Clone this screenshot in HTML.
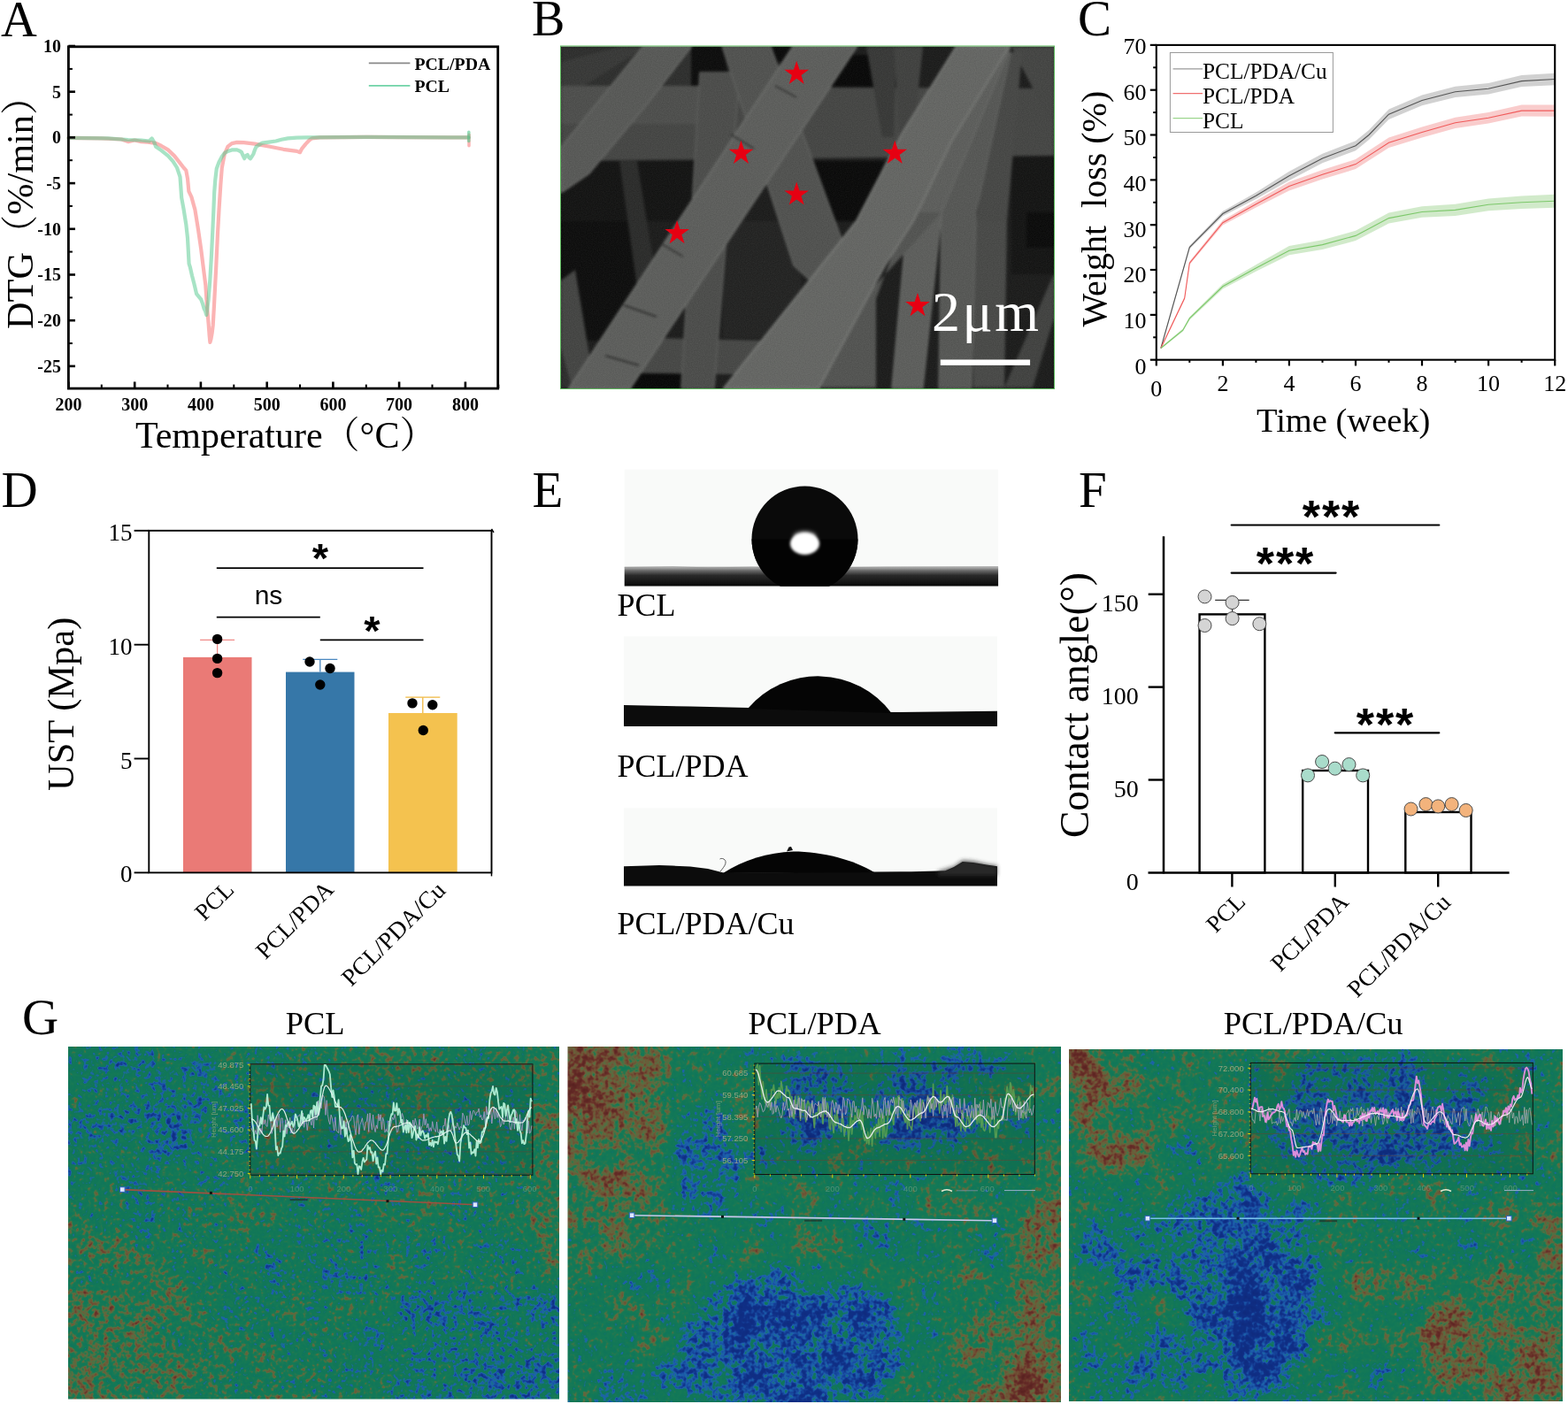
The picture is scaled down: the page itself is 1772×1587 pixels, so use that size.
<!DOCTYPE html>
<html><head><meta charset="utf-8"><title>Figure</title>
<style>html,body{margin:0;padding:0;background:#fff;} svg{display:block;}</style></head>
<body>
<svg width="1772" height="1587" viewBox="0 0 1772 1587">
<defs>
<linearGradient id="sub1" x1="0" y1="0" x2="0" y2="1"><stop offset="0" stop-color="#bdbdbd"/><stop offset="0.2" stop-color="#6a6a6a"/><stop offset="0.45" stop-color="#2a2a2a"/><stop offset="1" stop-color="#080808"/></linearGradient>
<filter id="blur15" x="-50%" y="-50%" width="200%" height="200%"><feGaussianBlur stdDeviation="1.5"/></filter>
<filter id="blur2" x="-50%" y="-50%" width="200%" height="200%"><feGaussianBlur stdDeviation="2"/></filter>
<filter id="semblur" x="0" y="0" width="100%" height="100%" color-interpolation-filters="sRGB"><feGaussianBlur in="SourceGraphic" stdDeviation="1.4" result="b"/><feTurbulence type="fractalNoise" baseFrequency="0.85" numOctaves="1" seed="4" result="n"/><feColorMatrix in="n" type="matrix" values="1 0 0 0 0 1 0 0 0 0 1 0 0 0 0 0 0 0 0 1" result="ng"/><feComposite in="b" in2="ng" operator="arithmetic" k1="0" k2="1" k3="0.1" k4="-0.05"/><feComponentTransfer><feFuncR type="linear" slope="0.83"/><feFuncG type="linear" slope="0.84"/><feFuncB type="linear" slope="0.82"/><feFuncA type="linear" slope="0" intercept="1"/></feComponentTransfer></filter>
<filter id="semnoise" x="0" y="0" width="100%" height="100%" color-interpolation-filters="sRGB"><feTurbulence type="fractalNoise" baseFrequency="0.9" numOctaves="1" seed="2"/><feColorMatrix type="matrix" values="1 0 0 0 0 1 0 0 0 0 1 0 0 0 0 0 0 0 0 1"/></filter>
<filter id="hm1" x="0" y="0" width="100%" height="100%" color-interpolation-filters="sRGB">
<feTurbulence type="fractalNoise" baseFrequency="0.028" numOctaves="3" seed="3" result="n1"/>
<feColorMatrix in="n1" type="matrix" values="1 0 0 0 0 1 0 0 0 0 1 0 0 0 0 0 0 0 0 1" result="g1"/>
<feTurbulence type="fractalNoise" baseFrequency="0.17" numOctaves="2" seed="53" result="n2"/>
<feColorMatrix in="n2" type="matrix" values="1 0 0 0 0 1 0 0 0 0 1 0 0 0 0 0 0 0 0 1" result="g2"/>
<feGaussianBlur in="SourceGraphic" stdDeviation="14" result="base"/>
<feComposite in="base" in2="g1" operator="arithmetic" k1="0" k2="1" k3="0.3" k4="-0.15" result="t"/>
<feComposite in="t" in2="g2" operator="arithmetic" k1="0" k2="1" k3="0.6" k4="-0.3" result="h"/>
<feComponentTransfer in="h">
<feFuncR type="table" tableValues="0.059 0.059 0.060 0.060 0.060 0.061 0.061 0.061 0.062 0.062 0.063 0.068 0.077 0.085 0.093 0.102 0.110 0.110 0.096 0.076 0.065 0.065 0.067 0.069 0.073 0.077 0.081 0.085 0.122 0.170 0.248 0.332 0.364 0.396 0.415 0.426 0.437 0.432 0.424 0.416 0.406 0.397 0.387 0.380 0.373 0.366 0.360 0.353"/>
<feFuncG type="table" tableValues="0.165 0.167 0.169 0.172 0.174 0.176 0.178 0.181 0.183 0.185 0.187 0.207 0.234 0.262 0.298 0.336 0.373 0.404 0.431 0.453 0.461 0.465 0.467 0.469 0.472 0.474 0.476 0.478 0.472 0.464 0.452 0.439 0.416 0.393 0.369 0.344 0.318 0.282 0.243 0.204 0.190 0.175 0.161 0.154 0.150 0.146 0.141 0.137"/>
<feFuncB type="table" tableValues="0.490 0.494 0.498 0.502 0.505 0.509 0.513 0.517 0.521 0.524 0.528 0.548 0.576 0.603 0.628 0.651 0.674 0.635 0.538 0.420 0.365 0.351 0.349 0.346 0.344 0.342 0.340 0.338 0.322 0.301 0.280 0.259 0.249 0.239 0.228 0.217 0.206 0.193 0.179 0.165 0.159 0.153 0.147 0.143 0.139 0.136 0.133 0.129"/>
<feFuncA type="linear" slope="0" intercept="1"/>
</feComponentTransfer>
</filter>
<filter id="hm2" x="0" y="0" width="100%" height="100%" color-interpolation-filters="sRGB">
<feTurbulence type="fractalNoise" baseFrequency="0.028" numOctaves="3" seed="11" result="n1"/>
<feColorMatrix in="n1" type="matrix" values="1 0 0 0 0 1 0 0 0 0 1 0 0 0 0 0 0 0 0 1" result="g1"/>
<feTurbulence type="fractalNoise" baseFrequency="0.17" numOctaves="2" seed="61" result="n2"/>
<feColorMatrix in="n2" type="matrix" values="1 0 0 0 0 1 0 0 0 0 1 0 0 0 0 0 0 0 0 1" result="g2"/>
<feGaussianBlur in="SourceGraphic" stdDeviation="14" result="base"/>
<feComposite in="base" in2="g1" operator="arithmetic" k1="0" k2="1" k3="0.4" k4="-0.2" result="t"/>
<feComposite in="t" in2="g2" operator="arithmetic" k1="0" k2="1" k3="0.5" k4="-0.25" result="h"/>
<feComponentTransfer in="h">
<feFuncR type="table" tableValues="0.059 0.059 0.060 0.060 0.060 0.061 0.061 0.061 0.062 0.062 0.063 0.068 0.077 0.085 0.093 0.102 0.110 0.110 0.096 0.076 0.065 0.065 0.067 0.069 0.073 0.077 0.081 0.085 0.122 0.170 0.248 0.332 0.364 0.396 0.415 0.426 0.437 0.432 0.424 0.416 0.406 0.397 0.387 0.380 0.373 0.366 0.360 0.353"/>
<feFuncG type="table" tableValues="0.165 0.167 0.169 0.172 0.174 0.176 0.178 0.181 0.183 0.185 0.187 0.207 0.234 0.262 0.298 0.336 0.373 0.404 0.431 0.453 0.461 0.465 0.467 0.469 0.472 0.474 0.476 0.478 0.472 0.464 0.452 0.439 0.416 0.393 0.369 0.344 0.318 0.282 0.243 0.204 0.190 0.175 0.161 0.154 0.150 0.146 0.141 0.137"/>
<feFuncB type="table" tableValues="0.490 0.494 0.498 0.502 0.505 0.509 0.513 0.517 0.521 0.524 0.528 0.548 0.576 0.603 0.628 0.651 0.674 0.635 0.538 0.420 0.365 0.351 0.349 0.346 0.344 0.342 0.340 0.338 0.322 0.301 0.280 0.259 0.249 0.239 0.228 0.217 0.206 0.193 0.179 0.165 0.159 0.153 0.147 0.143 0.139 0.136 0.133 0.129"/>
<feFuncA type="linear" slope="0" intercept="1"/>
</feComponentTransfer>
</filter>
<filter id="hm3" x="0" y="0" width="100%" height="100%" color-interpolation-filters="sRGB">
<feTurbulence type="fractalNoise" baseFrequency="0.028" numOctaves="3" seed="23" result="n1"/>
<feColorMatrix in="n1" type="matrix" values="1 0 0 0 0 1 0 0 0 0 1 0 0 0 0 0 0 0 0 1" result="g1"/>
<feTurbulence type="fractalNoise" baseFrequency="0.17" numOctaves="2" seed="73" result="n2"/>
<feColorMatrix in="n2" type="matrix" values="1 0 0 0 0 1 0 0 0 0 1 0 0 0 0 0 0 0 0 1" result="g2"/>
<feGaussianBlur in="SourceGraphic" stdDeviation="14" result="base"/>
<feComposite in="base" in2="g1" operator="arithmetic" k1="0" k2="1" k3="0.4" k4="-0.2" result="t"/>
<feComposite in="t" in2="g2" operator="arithmetic" k1="0" k2="1" k3="0.5" k4="-0.25" result="h"/>
<feComponentTransfer in="h">
<feFuncR type="table" tableValues="0.059 0.059 0.060 0.060 0.060 0.061 0.061 0.061 0.062 0.062 0.063 0.068 0.077 0.085 0.093 0.102 0.110 0.110 0.096 0.076 0.065 0.065 0.067 0.069 0.073 0.077 0.081 0.085 0.122 0.170 0.248 0.332 0.364 0.396 0.415 0.426 0.437 0.432 0.424 0.416 0.406 0.397 0.387 0.380 0.373 0.366 0.360 0.353"/>
<feFuncG type="table" tableValues="0.165 0.167 0.169 0.172 0.174 0.176 0.178 0.181 0.183 0.185 0.187 0.207 0.234 0.262 0.298 0.336 0.373 0.404 0.431 0.453 0.461 0.465 0.467 0.469 0.472 0.474 0.476 0.478 0.472 0.464 0.452 0.439 0.416 0.393 0.369 0.344 0.318 0.282 0.243 0.204 0.190 0.175 0.161 0.154 0.150 0.146 0.141 0.137"/>
<feFuncB type="table" tableValues="0.490 0.494 0.498 0.502 0.505 0.509 0.513 0.517 0.521 0.524 0.528 0.548 0.576 0.603 0.628 0.651 0.674 0.635 0.538 0.420 0.365 0.351 0.349 0.346 0.344 0.342 0.340 0.338 0.322 0.301 0.280 0.259 0.249 0.239 0.228 0.217 0.206 0.193 0.179 0.165 0.159 0.153 0.147 0.143 0.139 0.136 0.133 0.129"/>
<feFuncA type="linear" slope="0" intercept="1"/>
</feComponentTransfer>
</filter>
</defs>
<rect width="1772" height="1587" fill="#fff"/>
<text x="1" y="40.8" font-family="'Liberation Serif','Times New Roman',serif" font-size="56.5">A</text>
<path d="M77.4 155.9 L114.8 156.4 L137.2 157.5 L144.7 160.1 L152.2 158.5 L159.6 160.1 L167.1 160.6 L176.1 161.9 L182.1 164.7 L189.9 169.4 L197 176.1 L203.5 184.4 L207.5 189.5 L210.3 192.6 L212 201.9 L213.4 216.4 L216.4 222.6 L220.4 237.1 L223.9 258.8 L227.2 281.5 L229.9 303.3 L232.3 321.9 L234 346.7 L235.6 365.3 L236.6 378.7 L237.4 387 L238.5 382.9 L239.6 376.7 L240.7 367.4 L241.9 346.7 L244.1 304.3 L246 264 L247.5 237.1 L249.3 209.2 L250.8 189.5 L253.8 174 L257.5 165.7 L262 162.1 L267.8 160.9 L275.5 161.1 L288 162.6 L305 165.7 L320.3 168.8 L335.5 170.9 L339 172.2 L341.3 167.8 L345.6 162.6 L349.5 158.5 L352.5 156.4 L361.5 155.4 L413.8 154.9 L451.1 155.2 L529.6 155.4" fill="none" stroke="rgb(248,118,118)" stroke-opacity="0.55" stroke-width="4.2" stroke-linejoin="round" stroke-linecap="round"/>
<path d="M530 152.3 L530 164.7" stroke="rgb(248,118,118)" stroke-opacity="0.55" stroke-width="3.5" stroke-linecap="round"/>
<path d="M77.4 155.9 L122.2 156.4 L144.7 158 L159.6 158.5 L168.6 159.5 L171.6 156.4 L174.6 161.6 L176.1 165.7 L182.1 169.9 L189.9 176.1 L195.5 182.3 L200 189.5 L203.5 199.9 L205.2 223.6 L207.5 236.1 L210.3 253.6 L212 269.1 L213.6 298.1 L214.9 302.2 L217 311.5 L219.4 320.8 L222.1 332.2 L224.7 335.3 L227.2 338.4 L229.1 343.6 L230.6 348.8 L232.1 351.9 L233.3 356 L234.4 347.7 L235.6 338.4 L237.4 315.7 L239 287.8 L240.4 258.8 L241.4 237.1 L242.2 217.4 L243.3 203 L244.8 190.6 L247.5 183.3 L250.8 177.1 L253.8 173 L257.5 170.9 L262 169.4 L267.8 169.4 L270.3 170.4 L272.9 171.9 L274.7 176.1 L276.2 179.2 L277.7 176.1 L279.7 175 L281.5 178.1 L283 179.2 L284.5 177.1 L286.4 174 L288.2 168.8 L289.7 165.7 L292.7 163.7 L296.4 161.6 L303.9 160.6 L311.8 159.5 L318.1 157.7 L325.3 156.4 L335.3 155.6 L346.5 155.4 L413.8 154.9 L529.6 155.4" fill="none" stroke="rgb(80,200,140)" stroke-opacity="0.5" stroke-width="4.2" stroke-linejoin="round" stroke-linecap="round"/>
<path d="M529.8 149.2 L529.8 159.5" stroke="rgb(80,200,140)" stroke-opacity="0.6" stroke-width="3.5" stroke-linecap="round"/>
<rect x="77.4" y="52.8" width="485.3" height="386.3" fill="none" stroke="#000" stroke-width="2.8"/>
<line x1="77.4" y1="52" x2="85" y2="52" stroke="#000" stroke-width="2.6"/>
<text x="69" y="58.8" text-anchor="end" font-family="'Liberation Serif','Times New Roman',serif" font-weight="bold" font-size="20">10</text>
<line x1="77.4" y1="103.7" x2="85" y2="103.7" stroke="#000" stroke-width="2.6"/>
<text x="69" y="110.5" text-anchor="end" font-family="'Liberation Serif','Times New Roman',serif" font-weight="bold" font-size="20">5</text>
<line x1="77.4" y1="155.4" x2="85" y2="155.4" stroke="#000" stroke-width="2.6"/>
<text x="69" y="162.2" text-anchor="end" font-family="'Liberation Serif','Times New Roman',serif" font-weight="bold" font-size="20">0</text>
<line x1="77.4" y1="207.1" x2="85" y2="207.1" stroke="#000" stroke-width="2.6"/>
<text x="69" y="213.9" text-anchor="end" font-family="'Liberation Serif','Times New Roman',serif" font-weight="bold" font-size="20">-5</text>
<line x1="77.4" y1="258.8" x2="85" y2="258.8" stroke="#000" stroke-width="2.6"/>
<text x="69" y="265.6" text-anchor="end" font-family="'Liberation Serif','Times New Roman',serif" font-weight="bold" font-size="20">-10</text>
<line x1="77.4" y1="310.5" x2="85" y2="310.5" stroke="#000" stroke-width="2.6"/>
<text x="69" y="317.3" text-anchor="end" font-family="'Liberation Serif','Times New Roman',serif" font-weight="bold" font-size="20">-15</text>
<line x1="77.4" y1="362.2" x2="85" y2="362.2" stroke="#000" stroke-width="2.6"/>
<text x="69" y="369" text-anchor="end" font-family="'Liberation Serif','Times New Roman',serif" font-weight="bold" font-size="20">-20</text>
<line x1="77.4" y1="413.9" x2="85" y2="413.9" stroke="#000" stroke-width="2.6"/>
<text x="69" y="420.7" text-anchor="end" font-family="'Liberation Serif','Times New Roman',serif" font-weight="bold" font-size="20">-25</text>
<line x1="77.4" y1="77.9" x2="81.9" y2="77.9" stroke="#000" stroke-width="2"/>
<line x1="77.4" y1="129.6" x2="81.9" y2="129.6" stroke="#000" stroke-width="2"/>
<line x1="77.4" y1="181.2" x2="81.9" y2="181.2" stroke="#000" stroke-width="2"/>
<line x1="77.4" y1="232.9" x2="81.9" y2="232.9" stroke="#000" stroke-width="2"/>
<line x1="77.4" y1="284.6" x2="81.9" y2="284.6" stroke="#000" stroke-width="2"/>
<line x1="77.4" y1="336.4" x2="81.9" y2="336.4" stroke="#000" stroke-width="2"/>
<line x1="77.4" y1="388.1" x2="81.9" y2="388.1" stroke="#000" stroke-width="2"/>
<line x1="77.4" y1="439.1" x2="77.4" y2="431.5" stroke="#000" stroke-width="2.6"/>
<text x="77.4" y="464" text-anchor="middle" font-family="'Liberation Serif','Times New Roman',serif" font-weight="bold" font-size="20">200</text>
<line x1="152.2" y1="439.1" x2="152.2" y2="431.5" stroke="#000" stroke-width="2.6"/>
<text x="152.2" y="464" text-anchor="middle" font-family="'Liberation Serif','Times New Roman',serif" font-weight="bold" font-size="20">300</text>
<line x1="226.9" y1="439.1" x2="226.9" y2="431.5" stroke="#000" stroke-width="2.6"/>
<text x="226.9" y="464" text-anchor="middle" font-family="'Liberation Serif','Times New Roman',serif" font-weight="bold" font-size="20">400</text>
<line x1="301.7" y1="439.1" x2="301.7" y2="431.5" stroke="#000" stroke-width="2.6"/>
<text x="301.7" y="464" text-anchor="middle" font-family="'Liberation Serif','Times New Roman',serif" font-weight="bold" font-size="20">500</text>
<line x1="376.4" y1="439.1" x2="376.4" y2="431.5" stroke="#000" stroke-width="2.6"/>
<text x="376.4" y="464" text-anchor="middle" font-family="'Liberation Serif','Times New Roman',serif" font-weight="bold" font-size="20">600</text>
<line x1="451.1" y1="439.1" x2="451.1" y2="431.5" stroke="#000" stroke-width="2.6"/>
<text x="451.1" y="464" text-anchor="middle" font-family="'Liberation Serif','Times New Roman',serif" font-weight="bold" font-size="20">700</text>
<line x1="525.9" y1="439.1" x2="525.9" y2="431.5" stroke="#000" stroke-width="2.6"/>
<text x="525.9" y="464" text-anchor="middle" font-family="'Liberation Serif','Times New Roman',serif" font-weight="bold" font-size="20">800</text>
<line x1="114.8" y1="439.1" x2="114.8" y2="434.6" stroke="#000" stroke-width="2"/>
<line x1="189.5" y1="439.1" x2="189.5" y2="434.6" stroke="#000" stroke-width="2"/>
<line x1="264.3" y1="439.1" x2="264.3" y2="434.6" stroke="#000" stroke-width="2"/>
<line x1="339" y1="439.1" x2="339" y2="434.6" stroke="#000" stroke-width="2"/>
<line x1="413.8" y1="439.1" x2="413.8" y2="434.6" stroke="#000" stroke-width="2"/>
<line x1="488.5" y1="439.1" x2="488.5" y2="434.6" stroke="#000" stroke-width="2"/>
<line x1="563.3" y1="439.1" x2="563.3" y2="434.6" stroke="#000" stroke-width="2"/>
<line x1="416.8" y1="71.4" x2="463.4" y2="71.4" stroke="#8a8a8a" stroke-width="1.8"/>
<line x1="416.8" y1="96.8" x2="463.4" y2="96.8" stroke="#6fd3a6" stroke-width="1.8"/>
<text x="468.5" y="78.8" font-family="'Liberation Serif','Times New Roman',serif" font-weight="bold" font-size="19.8">PCL/PDA</text>
<text x="468.5" y="104.2" font-family="'Liberation Serif','Times New Roman',serif" font-weight="bold" font-size="19.8">PCL</text>
<text x="153" y="506" font-family="'Liberation Serif','Noto Serif CJK SC',serif" font-size="42">Temperature（°C）</text>
<text transform="translate(36.8,372) rotate(-90)" font-family="'Liberation Serif','Noto Serif CJK SC',serif" font-size="42.3">DTG（%/min）</text>
<text x="1218" y="40.3" font-family="'Liberation Serif','Times New Roman',serif" font-size="57">C</text>
<path d="M1311.9 392.6 L1344.3 277.8 L1381.9 238.7 L1419.4 217.4 L1456.9 193.7 L1494.5 173.7 L1532 159.3 L1547 147 L1569.5 123.5 L1607 107.5 L1644.6 97.7 L1682.1 93.9 L1719.6 85 L1757.2 82.8 L1757.2 96.2 L1719.6 98.1 L1682.1 106.5 L1644.6 109.9 L1607 119.3 L1569.5 134.9 L1547 158.1 L1532 170.2 L1494.5 184.3 L1456.9 203.9 L1419.4 225 L1381.9 244.3 L1344.3 281.4 L1311.9 394.4 Z" fill="#9a9a9a" fill-opacity="0.45"/>
<path d="M1311.9 392.6 L1338.7 335.4 L1344.3 295.6 L1381.9 248.9 L1419.4 227 L1456.9 205.4 L1494.5 192 L1532 180.1 L1569.5 155.5 L1607 143.6 L1644.6 132.7 L1682.1 126.9 L1719.6 118.6 L1757.2 118.4 L1757.2 131.8 L1719.6 131.6 L1682.1 139.5 L1644.6 144.9 L1607 155.4 L1569.5 166.9 L1532 191.1 L1494.5 202.6 L1456.9 215.6 L1419.4 234.6 L1381.9 254.5 L1344.3 299.2 L1338.7 338.7 L1311.9 394.4 Z" fill="#f08080" fill-opacity="0.4"/>
<path d="M1311.9 392.6 L1336.8 371.6 L1344.3 358.2 L1381.9 321.1 L1419.4 299.2 L1456.9 278.1 L1494.5 271.2 L1532 260.7 L1569.5 240.6 L1607 233.2 L1644.6 230.8 L1682.1 224.4 L1719.6 221.6 L1757.2 219.7 L1757.2 234.8 L1719.6 236 L1682.1 238.2 L1644.6 244 L1607 245.8 L1569.5 252.6 L1532 272.1 L1494.5 282 L1456.9 288.3 L1419.4 306.8 L1381.9 326.6 L1344.3 361.7 L1336.8 374.7 L1311.9 394.4 Z" fill="#98d08a" fill-opacity="0.45"/>
<path d="M1311.9 393.5 L1344.3 279.6 L1381.9 241.5 L1419.4 221.2 L1456.9 198.8 L1494.5 179 L1532 164.7 L1547 152.5 L1569.5 129.2 L1607 113.4 L1644.6 103.8 L1682.1 100.2 L1719.6 91.6 L1757.2 89.5" fill="none" stroke="#555" stroke-width="1.1"/>
<path d="M1311.9 393.5 L1338.7 337.1 L1344.3 297.4 L1381.9 251.7 L1419.4 230.8 L1456.9 210.5 L1494.5 197.3 L1532 185.6 L1569.5 161.2 L1607 149.5 L1644.6 138.8 L1682.1 133.2 L1719.6 125.1 L1757.2 125.1" fill="none" stroke="#f05a5a" stroke-width="1.1"/>
<path d="M1311.9 393.5 L1336.8 373.2 L1344.3 359.9 L1381.9 323.8 L1419.4 303 L1456.9 283.2 L1494.5 276.6 L1532 266.4 L1569.5 246.6 L1607 239.5 L1644.6 237.4 L1682.1 231.3 L1719.6 228.8 L1757.2 227.3" fill="none" stroke="#7cc86a" stroke-width="1.1"/>
<rect x="1306.8" y="50.9" width="450.4" height="355.8" fill="none" stroke="#000" stroke-width="2.1"/>
<line x1="1299.8" y1="406.7" x2="1306.8" y2="406.7" stroke="#000" stroke-width="2.2"/>
<text x="1295.5" y="422.5" text-anchor="end" font-family="'Liberation Serif','Times New Roman',serif" font-size="26">0</text>
<line x1="1299.8" y1="355.9" x2="1306.8" y2="355.9" stroke="#000" stroke-width="2.2"/>
<text x="1295.5" y="370.9" text-anchor="end" font-family="'Liberation Serif','Times New Roman',serif" font-size="26">10</text>
<line x1="1299.8" y1="305" x2="1306.8" y2="305" stroke="#000" stroke-width="2.2"/>
<text x="1295.5" y="319.2" text-anchor="end" font-family="'Liberation Serif','Times New Roman',serif" font-size="26">20</text>
<line x1="1299.8" y1="254.2" x2="1306.8" y2="254.2" stroke="#000" stroke-width="2.2"/>
<text x="1295.5" y="267.6" text-anchor="end" font-family="'Liberation Serif','Times New Roman',serif" font-size="26">30</text>
<line x1="1299.8" y1="203.4" x2="1306.8" y2="203.4" stroke="#000" stroke-width="2.2"/>
<text x="1295.5" y="216" text-anchor="end" font-family="'Liberation Serif','Times New Roman',serif" font-size="26">40</text>
<line x1="1299.8" y1="152.5" x2="1306.8" y2="152.5" stroke="#000" stroke-width="2.2"/>
<text x="1295.5" y="164.3" text-anchor="end" font-family="'Liberation Serif','Times New Roman',serif" font-size="26">50</text>
<line x1="1299.8" y1="101.7" x2="1306.8" y2="101.7" stroke="#000" stroke-width="2.2"/>
<text x="1295.5" y="112.7" text-anchor="end" font-family="'Liberation Serif','Times New Roman',serif" font-size="26">60</text>
<line x1="1299.8" y1="50.9" x2="1306.8" y2="50.9" stroke="#000" stroke-width="2.2"/>
<text x="1295.5" y="61.1" text-anchor="end" font-family="'Liberation Serif','Times New Roman',serif" font-size="26">70</text>
<line x1="1303.2" y1="381.3" x2="1306.8" y2="381.3" stroke="#000" stroke-width="2"/>
<line x1="1303.2" y1="330.5" x2="1306.8" y2="330.5" stroke="#000" stroke-width="2"/>
<line x1="1303.2" y1="279.6" x2="1306.8" y2="279.6" stroke="#000" stroke-width="2"/>
<line x1="1303.2" y1="228.8" x2="1306.8" y2="228.8" stroke="#000" stroke-width="2"/>
<line x1="1303.2" y1="178" x2="1306.8" y2="178" stroke="#000" stroke-width="2"/>
<line x1="1303.2" y1="127.1" x2="1306.8" y2="127.1" stroke="#000" stroke-width="2"/>
<line x1="1303.2" y1="76.3" x2="1306.8" y2="76.3" stroke="#000" stroke-width="2"/>
<line x1="1306.8" y1="406.7" x2="1306.8" y2="413.5" stroke="#000" stroke-width="2.2"/>
<text x="1306.8" y="448" text-anchor="middle" font-family="'Liberation Serif','Times New Roman',serif" font-size="26">0</text>
<line x1="1381.9" y1="406.7" x2="1381.9" y2="413.5" stroke="#000" stroke-width="2.2"/>
<text x="1381.9" y="441.5" text-anchor="middle" font-family="'Liberation Serif','Times New Roman',serif" font-size="26">2</text>
<line x1="1456.9" y1="406.7" x2="1456.9" y2="413.5" stroke="#000" stroke-width="2.2"/>
<text x="1456.9" y="441.5" text-anchor="middle" font-family="'Liberation Serif','Times New Roman',serif" font-size="26">4</text>
<line x1="1532" y1="406.7" x2="1532" y2="413.5" stroke="#000" stroke-width="2.2"/>
<text x="1532" y="441.5" text-anchor="middle" font-family="'Liberation Serif','Times New Roman',serif" font-size="26">6</text>
<line x1="1607" y1="406.7" x2="1607" y2="413.5" stroke="#000" stroke-width="2.2"/>
<text x="1607" y="441.5" text-anchor="middle" font-family="'Liberation Serif','Times New Roman',serif" font-size="26">8</text>
<line x1="1682.1" y1="406.7" x2="1682.1" y2="413.5" stroke="#000" stroke-width="2.2"/>
<text x="1682.1" y="441.5" text-anchor="middle" font-family="'Liberation Serif','Times New Roman',serif" font-size="26">10</text>
<line x1="1757.2" y1="406.7" x2="1757.2" y2="413.5" stroke="#000" stroke-width="2.2"/>
<text x="1757.2" y="441.5" text-anchor="middle" font-family="'Liberation Serif','Times New Roman',serif" font-size="26">12</text>
<line x1="1344.3" y1="406.7" x2="1344.3" y2="409.9" stroke="#000" stroke-width="2"/>
<line x1="1419.4" y1="406.7" x2="1419.4" y2="409.9" stroke="#000" stroke-width="2"/>
<line x1="1494.5" y1="406.7" x2="1494.5" y2="409.9" stroke="#000" stroke-width="2"/>
<line x1="1569.5" y1="406.7" x2="1569.5" y2="409.9" stroke="#000" stroke-width="2"/>
<line x1="1644.6" y1="406.7" x2="1644.6" y2="409.9" stroke="#000" stroke-width="2"/>
<line x1="1719.6" y1="406.7" x2="1719.6" y2="409.9" stroke="#000" stroke-width="2"/>
<rect x="1322.4" y="59.5" width="184" height="90" fill="#fff" fill-opacity="0" stroke="#9a9a9a" stroke-width="1"/>
<line x1="1325.6" y1="77.8" x2="1359" y2="77.8" stroke="#999" stroke-width="1.2"/>
<line x1="1325.6" y1="105.7" x2="1359" y2="105.7" stroke="#f07070" stroke-width="1.2"/>
<line x1="1325.6" y1="133.7" x2="1359" y2="133.7" stroke="#9bd58d" stroke-width="1.2"/>
<text x="1359" y="88.6" font-family="'Liberation Serif','Times New Roman',serif" font-size="25.3">PCL/PDA/Cu</text>
<text x="1359" y="116.5" font-family="'Liberation Serif','Times New Roman',serif" font-size="25.3">PCL/PDA</text>
<text x="1359" y="144.5" font-family="'Liberation Serif','Times New Roman',serif" font-size="25.3">PCL</text>
<text x="1420" y="487.7" font-family="'Liberation Serif','Times New Roman',serif" font-size="38.5">Time (week)</text>
<text transform="translate(1249.5,369.5) rotate(-90)" font-family="'Liberation Serif','Times New Roman',serif" font-size="40">Weight&#160;&#160;loss (%)</text>
<text x="1.5" y="573.4" font-family="'Liberation Serif','Times New Roman',serif" font-size="57">D</text>
<rect x="207" y="742.9" width="77.5" height="243.5" fill="#EA7A76"/>
<rect x="323" y="759.6" width="77.5" height="226.8" fill="#3677A8"/>
<rect x="439" y="806" width="77.7" height="180.4" fill="#F4C24F"/>
<line x1="245.6" y1="742.9" x2="245.6" y2="723.4" stroke="#f08a88" stroke-width="1.3"/>
<line x1="226.1" y1="723.4" x2="265.1" y2="723.4" stroke="#f08a88" stroke-width="1.3"/>
<line x1="361.8" y1="759.6" x2="361.8" y2="745.3" stroke="#4a88c0" stroke-width="1.3"/>
<line x1="342.3" y1="745.3" x2="381.3" y2="745.3" stroke="#4a88c0" stroke-width="1.3"/>
<line x1="477.8" y1="806" x2="477.8" y2="788.2" stroke="#f0b840" stroke-width="1.3"/>
<line x1="458.3" y1="788.2" x2="497.3" y2="788.2" stroke="#f0b840" stroke-width="1.3"/>
<circle cx="245.6" cy="722.4" r="5.7" fill="#000"/>
<circle cx="245.6" cy="744.4" r="5.7" fill="#000"/>
<circle cx="245.6" cy="760.6" r="5.7" fill="#000"/>
<circle cx="350" cy="748" r="5.7" fill="#000"/>
<circle cx="373" cy="755.5" r="5.7" fill="#000"/>
<circle cx="361.8" cy="774" r="5.7" fill="#000"/>
<circle cx="466" cy="794.9" r="5.7" fill="#000"/>
<circle cx="488.8" cy="796.7" r="5.7" fill="#000"/>
<circle cx="478.3" cy="825.5" r="5.7" fill="#000"/>
<rect x="168.3" y="599.8" width="387.2" height="386.6" fill="none" stroke="#000" stroke-width="1.9"/>
<line x1="151.6" y1="986.4" x2="168.3" y2="986.4" stroke="#000" stroke-width="1.9"/>
<text x="149.5" y="997.4" text-anchor="end" font-family="'Liberation Serif','Times New Roman',serif" font-size="27">0</text>
<line x1="151.6" y1="857.5" x2="168.3" y2="857.5" stroke="#000" stroke-width="1.9"/>
<text x="149.5" y="868.5" text-anchor="end" font-family="'Liberation Serif','Times New Roman',serif" font-size="27">5</text>
<line x1="151.6" y1="728.7" x2="168.3" y2="728.7" stroke="#000" stroke-width="1.9"/>
<text x="149.5" y="739.7" text-anchor="end" font-family="'Liberation Serif','Times New Roman',serif" font-size="27">10</text>
<line x1="151.6" y1="599.8" x2="168.3" y2="599.8" stroke="#000" stroke-width="1.9"/>
<text x="149.5" y="610.8" text-anchor="end" font-family="'Liberation Serif','Times New Roman',serif" font-size="27">15</text>
<line x1="555.5" y1="597.8" x2="558.0" y2="601.8" stroke="#000" stroke-width="1.5"/>
<line x1="555.5" y1="986.4" x2="555.5" y2="990.4" stroke="#000" stroke-width="1.5"/>
<line x1="244.8" y1="642.2" x2="478.5" y2="642.2" stroke="#000" stroke-width="1.8"/>
<line x1="244.8" y1="697.6" x2="361.8" y2="697.6" stroke="#000" stroke-width="1.8"/>
<line x1="361.8" y1="723.4" x2="478.5" y2="723.4" stroke="#000" stroke-width="1.8"/>
<text x="362" y="647" text-anchor="middle" font-family="'Liberation Sans',Arial,sans-serif" font-weight="bold" font-size="47">*</text>
<text x="420.5" y="729" text-anchor="middle" font-family="'Liberation Sans',Arial,sans-serif" font-weight="bold" font-size="47">*</text>
<text x="303.5" y="682.6" text-anchor="middle" font-family="'Liberation Sans',Arial,sans-serif" font-size="30">ns</text>
<text transform="translate(266,1007) rotate(-45)" text-anchor="end" font-family="'Liberation Serif','Times New Roman',serif" font-size="27">PCL</text>
<text transform="translate(378.5,1007) rotate(-45)" text-anchor="end" font-family="'Liberation Serif','Times New Roman',serif" font-size="27">PCL/PDA</text>
<text transform="translate(505,1008) rotate(-45)" text-anchor="end" font-family="'Liberation Serif','Times New Roman',serif" font-size="27.5">PCL/PDA/Cu</text>
<text transform="translate(83,894) rotate(-90)" font-family="'Liberation Serif','Times New Roman',serif" font-size="42.5">UST (Mpa)</text>
<text x="1219" y="573.4" font-family="'Liberation Serif','Times New Roman',serif" font-size="57">F</text>
<rect x="1355.6" y="694.4" width="73.8" height="292" fill="#fff" stroke="#000" stroke-width="2.4"/>
<rect x="1472.2" y="871" width="73.8" height="115.4" fill="#fff" stroke="#000" stroke-width="2.4"/>
<rect x="1588.3" y="918" width="74.2" height="68.4" fill="#fff" stroke="#000" stroke-width="2.4"/>
<line x1="1392.6" y1="678.4" x2="1392.6" y2="694.7" stroke="#333" stroke-width="1.3"/>
<line x1="1373.2" y1="678.4" x2="1411.7" y2="678.4" stroke="#333" stroke-width="1.3"/>
<line x1="1508.9" y1="864" x2="1508.9" y2="871" stroke="#333" stroke-width="1.3"/>
<line x1="1625.4" y1="913" x2="1625.4" y2="918" stroke="#333" stroke-width="1.3"/>
<circle cx="1361.5" cy="674.4" r="7.5" fill="#d4d4d4" stroke="#4a4a4a" stroke-width="1"/>
<circle cx="1392.6" cy="681" r="7.5" fill="#d4d4d4" stroke="#4a4a4a" stroke-width="1"/>
<circle cx="1392.6" cy="699.1" r="7.5" fill="#d4d4d4" stroke="#4a4a4a" stroke-width="1"/>
<circle cx="1361.5" cy="707" r="7.5" fill="#d4d4d4" stroke="#4a4a4a" stroke-width="1"/>
<circle cx="1423.4" cy="705.2" r="7.5" fill="#d4d4d4" stroke="#4a4a4a" stroke-width="1"/>
<circle cx="1494.1" cy="861" r="7.5" fill="#a9dccb" stroke="#4a4a4a" stroke-width="1"/>
<circle cx="1524.5" cy="864.1" r="7.5" fill="#a9dccb" stroke="#4a4a4a" stroke-width="1"/>
<circle cx="1508.7" cy="868.7" r="7.5" fill="#a9dccb" stroke="#4a4a4a" stroke-width="1"/>
<circle cx="1478" cy="876.4" r="7.5" fill="#a9dccb" stroke="#4a4a4a" stroke-width="1"/>
<circle cx="1540.2" cy="876.4" r="7.5" fill="#a9dccb" stroke="#4a4a4a" stroke-width="1"/>
<circle cx="1611.4" cy="909.1" r="7.5" fill="#F3B37C" stroke="#4a4a4a" stroke-width="1"/>
<circle cx="1640.6" cy="909.1" r="7.5" fill="#F3B37C" stroke="#4a4a4a" stroke-width="1"/>
<circle cx="1625.2" cy="911.4" r="7.5" fill="#F3B37C" stroke="#4a4a4a" stroke-width="1"/>
<circle cx="1594.5" cy="914.5" r="7.5" fill="#F3B37C" stroke="#4a4a4a" stroke-width="1"/>
<circle cx="1656.7" cy="916" r="7.5" fill="#F3B37C" stroke="#4a4a4a" stroke-width="1"/>
<line x1="1315" y1="606.2" x2="1315" y2="987.4" stroke="#000" stroke-width="2.5"/>
<line x1="1297.5" y1="986.4" x2="1705.6" y2="986.4" stroke="#000" stroke-width="2.5"/>
<line x1="1297.7" y1="881.5" x2="1315" y2="881.5" stroke="#000" stroke-width="2.4"/>
<line x1="1297.7" y1="776.6" x2="1315" y2="776.6" stroke="#000" stroke-width="2.4"/>
<line x1="1297.7" y1="671.7" x2="1315" y2="671.7" stroke="#000" stroke-width="2.4"/>
<text x="1286.8" y="1005.7" text-anchor="end" font-family="'Liberation Serif','Times New Roman',serif" font-size="28">0</text>
<text x="1286.8" y="900.8" text-anchor="end" font-family="'Liberation Serif','Times New Roman',serif" font-size="28">50</text>
<text x="1286.8" y="795.9" text-anchor="end" font-family="'Liberation Serif','Times New Roman',serif" font-size="28">100</text>
<text x="1286.8" y="691" text-anchor="end" font-family="'Liberation Serif','Times New Roman',serif" font-size="28">150</text>
<line x1="1392.4" y1="986.4" x2="1392.4" y2="1002.5" stroke="#000" stroke-width="2.4"/>
<line x1="1508.8" y1="986.4" x2="1508.8" y2="1002.5" stroke="#000" stroke-width="2.4"/>
<line x1="1625.2" y1="986.4" x2="1625.2" y2="1002.5" stroke="#000" stroke-width="2.4"/>
<line x1="1391.7" y1="593.5" x2="1626.3" y2="593.5" stroke="#000" stroke-width="2.2" stroke-linecap="round"/>
<line x1="1391.7" y1="647.6" x2="1509.6" y2="647.6" stroke="#000" stroke-width="2.2" stroke-linecap="round"/>
<line x1="1508.7" y1="828.3" x2="1626.3" y2="828.3" stroke="#000" stroke-width="2.2" stroke-linecap="round"/>
<text x="1505" y="601.5" text-anchor="middle" font-family="'Liberation Sans',Arial,sans-serif" font-weight="bold" font-size="52" letter-spacing="2">***</text>
<text x="1453" y="654.5" text-anchor="middle" font-family="'Liberation Sans',Arial,sans-serif" font-weight="bold" font-size="52" letter-spacing="2">***</text>
<text x="1566" y="837" text-anchor="middle" font-family="'Liberation Sans',Arial,sans-serif" font-weight="bold" font-size="52" letter-spacing="2">***</text>
<text transform="translate(1409,1020.5) rotate(-45)" text-anchor="end" font-family="'Liberation Serif','Times New Roman',serif" font-size="27">PCL</text>
<text transform="translate(1525.5,1021) rotate(-45)" text-anchor="end" font-family="'Liberation Serif','Times New Roman',serif" font-size="27">PCL/PDA</text>
<text transform="translate(1641,1021.5) rotate(-45)" text-anchor="end" font-family="'Liberation Serif','Times New Roman',serif" font-size="27.3">PCL/PDA/Cu</text>
<text transform="translate(1230,947) rotate(-90)" font-family="'Liberation Serif','Times New Roman',serif" font-size="45.5">Contact angle(°)</text>
<text x="601.5" y="573.4" font-family="'Liberation Serif','Times New Roman',serif" font-size="57">E</text>
<rect x="705.7" y="530.6" width="422.4" height="132" fill="#f9faf9"/>
<rect x="705.7" y="640.5" width="422.4" height="22" fill="url(#sub1)"/>
<path d="M705.7 641.5 L760 640.5 L800 642 L850 641 L900 642.5 L1000 641 L1128 640.5" fill="none" stroke="#888" stroke-width="1" stroke-opacity="0.5"/>
<clipPath id="clipE1"><rect x="705.7" y="530.6" width="422.4" height="131.8"/></clipPath>
<g clip-path="url(#clipE1)">
<circle cx="909.5" cy="609.5" r="60" fill="#0a0a0a"/>
<path d="M849.5 609.5 A60 60 0 0 0 969.5 609.5 Z" fill="#030303"/>
<ellipse cx="909.5" cy="614.5" rx="16.5" ry="12.5" fill="#fff" filter="url(#blur15)"/>
<ellipse cx="909.5" cy="606" rx="13" ry="6" fill="#fff" fill-opacity="0.5" filter="url(#blur2)"/>
</g>
<rect x="705" y="719.4" width="422" height="101.6" fill="#f9faf9"/>
<path d="M705 797 L780 798.5 L846 800 L1006.8 805 L1060 804.5 L1127 803.8 L1127 821 L705 821 Z" fill="#0c0c0c"/>
<path d="M845 801 A104 104 0 0 1 1007.5 806 Z" fill="#050505"/>
<rect x="705" y="913.4" width="422" height="88" fill="#f9faf9"/>
<path d="M705 979.3 L730 978.5 L745 978 L760 978.6 L780 979.5 L800 982 L817.8 986.6 L987.2 985.4 L1030 985.2 L1068.2 984.2 L1078 980 L1087.8 974 L1100 975 L1115 977.5 L1127 979.3 L1127 1001.4 L705 1001.4 Z" fill="#0c0c0c"/>
<path d="M1060 984.5 L1078 979 L1087.8 972 L1100 973 L1115 976.5 L1127 978.3 L1127 990 L1060 990 Z" fill="#333" fill-opacity="0.7" filter="url(#blur2)"/>
<path d="M817 987 C 840 972, 868 963.5, 896.4 962.5 C 930 962.5, 965 972, 988 986 Z" fill="#050505"/>
<path d="M889 962.5 L891.5 957.5 L894 957 L896 961 Z" fill="#111"/>
<path d="M814 985 C 820 978, 822 974, 818 971 C 816 970, 814 970.5, 813.5 971" fill="none" stroke="#333" stroke-width="0.8"/>
<text x="697.5" y="696.4" font-family="'Liberation Serif','Times New Roman',serif" font-size="36">PCL</text>
<text x="697.5" y="877.5" font-family="'Liberation Serif','Times New Roman',serif" font-size="36">PCL/PDA</text>
<text x="697.5" y="1056.4" font-family="'Liberation Serif','Times New Roman',serif" font-size="36">PCL/PDA/Cu</text>
<clipPath id="clipB"><rect x="634" y="52.5" width="557" height="386.5"/></clipPath>
<g clip-path="url(#clipB)">
<g filter="url(#semblur)">
<rect x="634" y="52.5" width="557" height="386.5" fill="#262626"/>
<path d="M634.0 53.0 L790.0 53.0 L790.0 97.0 L634.0 97.0 Z" fill="#3b3b3b"/>
<path d="M634.0 182.0 L800.0 182.0 L800.0 250.0 L634.0 250.0 Z" fill="#1c1c1c"/>
<path d="M634.0 250.0 L720.0 250.0 L720.0 385.0 L634.0 385.0 Z" fill="#151515"/>
<path d="M705.0 420.0 L775.0 420.0 L775.0 439.0 L705.0 439.0 Z" fill="#0e0e0e"/>
<path d="M781.0 53.0 L817.0 53.0 L825.0 97.0 L781.0 97.0 Z" fill="#141414"/>
<path d="M940.0 62.0 L995.0 62.0 L995.0 101.0 L940.0 101.0 Z" fill="#0f0f0f"/>
<path d="M920.0 182.0 L1000.0 182.0 L975.0 250.0 L925.0 250.0 Z" fill="#111111"/>
<path d="M871.0 53.0 L900.0 53.0 L900.0 70.0 L871.0 70.0 Z" fill="#111111"/>
<path d="M1143.0 150.0 L1191.0 150.0 L1191.0 310.0 L1143.0 310.0 Z" fill="#1d1d1d"/>
<path d="M1160.0 240.0 L1191.0 240.0 L1191.0 280.0 L1160.0 280.0 Z" fill="#121212"/>
<path d="M817.0 250.0 L905.0 250.0 L905.0 382.0 L817.0 382.0 Z" fill="#2e2e2e"/>
<path d="M634.0 70.0 L700.0 53.0 L730.0 53.0 L660.0 97.0 L634.0 97.0 Z" fill="#474747"/>
<path d="M634.0 97.0 L1191.0 100.0 L1191.0 176.0 L634.0 182.0 Z" fill="#565656"/>
<path d="M634.0 97.0 L800.0 97.0 L800.0 140.0 L634.0 140.0 Z" fill="#606060"/>
<path d="M979.0 53.0 L1013.0 53.0 L1010.0 155.0 L997.0 155.0 Z" fill="#474747"/>
<path d="M1010.0 53.0 L1043.0 53.0 L1030.0 175.0 L1018.0 175.0 Z" fill="#515151"/>
<path d="M1143.0 53.0 L1191.0 53.0 L1191.0 146.0 Z" fill="#555555"/>
<path d="M700.0 182.0 L720.0 182.0 L745.0 336.0 L722.0 340.0 Z" fill="#383838"/>
<path d="M634.0 317.0 L650.0 305.0 L672.0 438.0 L646.0 438.0 L634.0 395.0 Z" fill="#555555"/>
<path d="M634.0 395.0 L646.0 438.0 L634.0 438.0 Z" fill="#3a3a3a"/>
<path d="M713.6 381.5 L915.0 386.0 L915.0 424.0 L713.6 421.7 Z" fill="#585858"/>
<path d="M1135.0 438.0 L1167.0 438.0 L1191.0 360.0 L1191.0 309.0 Z" fill="#525252"/>
<path d="M1100.0 250.0 L1138.0 250.0 L1135.0 438.0 L1100.0 438.0 Z" fill="#5a5a5a"/>
<path d="M1132.0 59.0 L1155.0 59.0 L1138.0 250.0 L1103.0 250.0 Z" fill="#585858"/>
<path d="M791.0 82.0 L836.0 82.0 L807.0 438.0 L770.0 438.0 Z" fill="#5e5e5e" stroke="#6e6e6e" stroke-width="1.6" stroke-linejoin="round"/>
<path d="M1119.0 60.0 L1142.0 60.0 L1103.0 240.0 L1098.0 438.0 L1061.0 438.0 L1064.0 240.0 Z" fill="#6a6a6a" stroke="#767676" stroke-width="1.4" stroke-linejoin="round"/>
<path d="M1111.0 53.0 L1142.0 53.0 L1064.0 240.0 L1043.0 438.0 L1008.0 438.0 L1026.0 240.0 Z" fill="#727272" stroke="#7e7e7e" stroke-width="1.4" stroke-linejoin="round"/>
<path d="M1064.0 240.0 L1026.0 240.0 L990.0 338.0 L990.0 438.0 L926.0 438.0 L942.0 401.0 L977.0 336.0 Z" fill="#666666"/>
<path d="M816.5 53.0 L871.0 53.0 L962.0 300.0 L935.0 335.0 L897.0 300.0 Z" fill="#646464" stroke="#747474" stroke-width="1.6" stroke-linejoin="round"/>
<path d="M634.8 165.8 L726.5 53.0 L781.2 53.0 L729.7 119.2 L691.1 165.8 L665.4 196.3 L634.8 217.3 Z" fill="#6c6c6c" stroke="#7c7c7c" stroke-width="1.8" stroke-linejoin="round"/>
<path d="M643.0 439.0 L896.0 53.0 L968.0 53.0 L712.0 439.0 Z" fill="#727272" stroke="#828282" stroke-width="2.0" stroke-linejoin="round"/>
<path d="M818.0 439.0 L915.0 317.0 L967.9 250.0 L1020.0 150.0 L1080.5 53.0 L1140.0 53.0 L1075.0 160.0 L1032.0 250.0 L1000.0 300.0 L925.0 439.0 Z" fill="#7b7b7b" stroke="#8e8e8e" stroke-width="2.2" stroke-linejoin="round"/>
<line x1="705" y1="345" x2="742" y2="358" stroke="#2a2a2a" stroke-width="1.4"/>
<line x1="748" y1="276" x2="772" y2="290" stroke="#2a2a2a" stroke-width="1.4"/>
<line x1="826" y1="152" x2="852" y2="168" stroke="#2a2a2a" stroke-width="1.4"/>
<line x1="876" y1="97" x2="900" y2="110" stroke="#2a2a2a" stroke-width="1.4"/>
<line x1="684" y1="402" x2="722" y2="413" stroke="#2a2a2a" stroke-width="1.4"/>
</g>
</g>
<rect x="633.5" y="52.0" width="558" height="387.5" fill="none" stroke="#5cb85c" stroke-width="1"/>
<path d="M900.2 68.7 L903.5 78.7 L914.0 78.7 L905.5 84.9 L908.7 94.9 L900.2 88.8 L891.7 94.9 L894.9 84.9 L886.4 78.7 L896.9 78.7 Z" fill="#E60012"/>
<path d="M837.5 158.7 L840.8 168.7 L851.3 168.7 L842.8 174.9 L846.0 184.9 L837.5 178.8 L829.0 184.9 L832.2 174.9 L823.7 168.7 L834.2 168.7 Z" fill="#E60012"/>
<path d="M900.2 205.4 L903.5 215.4 L914.0 215.4 L905.5 221.6 L908.7 231.6 L900.2 225.5 L891.7 231.6 L894.9 221.6 L886.4 215.4 L896.9 215.4 Z" fill="#E60012"/>
<path d="M1011.3 158.7 L1014.6 168.7 L1025.1 168.7 L1016.6 174.9 L1019.8 184.9 L1011.3 178.8 L1002.8 184.9 L1006.0 174.9 L997.5 168.7 L1008.0 168.7 Z" fill="#E60012"/>
<path d="M765.1 249.0 L768.4 259.0 L778.9 259.0 L770.4 265.2 L773.6 275.2 L765.1 269.1 L756.6 275.2 L759.8 265.2 L751.3 259.0 L761.8 259.0 Z" fill="#E60012"/>
<path d="M1037.0 331.0 L1040.3 341.0 L1050.8 341.0 L1042.3 347.2 L1045.5 357.2 L1037.0 351.1 L1028.5 357.2 L1031.7 347.2 L1023.2 341.0 L1033.7 341.0 Z" fill="#E60012"/>
<text x="1053" y="373.5" font-family="'Liberation Serif','Times New Roman',serif" font-size="64" letter-spacing="2.5" fill="#fff">2μm</text>
<rect x="1062.8" y="406.5" width="101.3" height="6.4" fill="#fff"/>
<text x="601" y="40.3" font-family="'Liberation Serif','Times New Roman',serif" font-size="56">B</text>
<text x="25" y="1168.5" font-family="'Liberation Serif','Times New Roman',serif" font-size="57">G</text>
<text x="356.2" y="1168.8" text-anchor="middle" font-family="'Liberation Serif','Times New Roman',serif" font-size="36.5">PCL</text>
<text x="920.5" y="1169" text-anchor="middle" font-family="'Liberation Serif','Times New Roman',serif" font-size="36.5">PCL/PDA</text>
<text x="1484.2" y="1168.8" text-anchor="middle" font-family="'Liberation Serif','Times New Roman',serif" font-size="36.5">PCL/PDA/Cu</text>
<clipPath id="chm1"><rect x="77" y="1183" width="555" height="398.5"/></clipPath>
<g clip-path="url(#chm1)"><g filter="url(#hm1)">
<rect x="47" y="1153" width="615" height="458.5" fill="#838383"/>
<ellipse cx="160" cy="1260" rx="95" ry="80" fill="#737373"/>
<ellipse cx="195" cy="1250" rx="40" ry="60" fill="#666666"/>
<ellipse cx="130" cy="1200" rx="70" ry="25" fill="#707070"/>
<ellipse cx="540" cy="1520" rx="120" ry="80" fill="#6e6e6e"/>
<ellipse cx="600" cy="1560" rx="60" ry="40" fill="#666666"/>
<ellipse cx="360" cy="1420" rx="60" ry="50" fill="#7a7a7a"/>
<ellipse cx="130" cy="1500" rx="90" ry="100" fill="#999999"/>
<ellipse cx="90" cy="1550" rx="40" ry="40" fill="#adadad"/>
<ellipse cx="85" cy="1420" rx="30" ry="60" fill="#949494"/>
<ellipse cx="618" cy="1300" rx="30" ry="140" fill="#999999"/>
<ellipse cx="250" cy="1540" rx="70" ry="40" fill="#919191"/>
<ellipse cx="480" cy="1215" rx="110" ry="25" fill="#8f8f8f"/>
<ellipse cx="330" cy="1320" rx="40" ry="40" fill="#8a8a8a"/>
</g></g>
<clipPath id="chm2"><rect x="641.5" y="1183" width="557.5" height="402"/></clipPath>
<g clip-path="url(#chm2)"><g filter="url(#hm2)">
<rect x="611.5" y="1153" width="617.5" height="462" fill="#878787"/>
<ellipse cx="680" cy="1280" rx="80" ry="130" fill="#a7a7a7"/>
<ellipse cx="658" cy="1225" rx="35" ry="65" fill="#d1d1d1"/>
<ellipse cx="720" cy="1195" rx="60" ry="25" fill="#b2b2b2"/>
<ellipse cx="650" cy="1400" rx="20" ry="60" fill="#949494"/>
<ellipse cx="895" cy="1520" rx="130" ry="75" fill="#4c4c4c"/>
<ellipse cx="800" cy="1545" rx="50" ry="45" fill="#575757"/>
<ellipse cx="940" cy="1470" rx="60" ry="35" fill="#525252"/>
<ellipse cx="870" cy="1500" rx="50" ry="30" fill="#424242"/>
<ellipse cx="805" cy="1320" rx="45" ry="60" fill="#616161"/>
<ellipse cx="920" cy="1250" rx="45" ry="55" fill="#525252"/>
<ellipse cx="1045" cy="1260" rx="55" ry="55" fill="#4f4f4f"/>
<ellipse cx="1100" cy="1200" rx="45" ry="20" fill="#5c5c5c"/>
<ellipse cx="1000" cy="1390" rx="45" ry="22" fill="#666666"/>
<ellipse cx="1185" cy="1420" rx="30" ry="110" fill="#a8a8a8"/>
<ellipse cx="1165" cy="1565" rx="65" ry="35" fill="#cccccc"/>
<ellipse cx="1120" cy="1520" rx="40" ry="40" fill="#a8a8a8"/>
<ellipse cx="700" cy="1570" rx="45" ry="25" fill="#6b6b6b"/>
<ellipse cx="1070" cy="1330" rx="40" ry="30" fill="#999999"/>
<ellipse cx="930" cy="1405" rx="30" ry="20" fill="#9e9e9e"/>
</g></g>
<clipPath id="chm3"><rect x="1208" y="1186" width="558" height="398"/></clipPath>
<g clip-path="url(#chm3)"><g filter="url(#hm3)">
<rect x="1178" y="1156" width="618" height="458" fill="#878787"/>
<ellipse cx="1245" cy="1230" rx="45" ry="45" fill="#a3a3a3"/>
<ellipse cx="1216" cy="1196" rx="22" ry="16" fill="#e6e6e6"/>
<ellipse cx="1230" cy="1228" rx="18" ry="28" fill="#bdbdbd"/>
<ellipse cx="1272" cy="1288" rx="50" ry="14" fill="#adadad"/>
<ellipse cx="1282" cy="1292" rx="14" ry="7" fill="#d6d6d6"/>
<ellipse cx="1263" cy="1318" rx="15" ry="19" fill="#d6d6d6"/>
<ellipse cx="1290" cy="1200" rx="30" ry="14" fill="#9e9e9e"/>
<ellipse cx="1228" cy="1440" rx="25" ry="60" fill="#949494"/>
<ellipse cx="1415" cy="1470" rx="75" ry="115" fill="#4c4c4c"/>
<ellipse cx="1410" cy="1480" rx="40" ry="60" fill="#404040"/>
<ellipse cx="1400" cy="1370" rx="75" ry="30" fill="#545454"/>
<ellipse cx="1280" cy="1420" rx="60" ry="50" fill="#616161"/>
<ellipse cx="1290" cy="1540" rx="60" ry="40" fill="#666666"/>
<ellipse cx="1560" cy="1265" rx="120" ry="65" fill="#575757"/>
<ellipse cx="1690" cy="1520" rx="90" ry="70" fill="#a3a3a3"/>
<ellipse cx="1632" cy="1507" rx="20" ry="24" fill="#dbdbdb"/>
<ellipse cx="1735" cy="1565" rx="35" ry="20" fill="#d6d6d6"/>
<ellipse cx="1755" cy="1420" rx="18" ry="50" fill="#bdbdbd"/>
<ellipse cx="1540" cy="1465" rx="18" ry="28" fill="#b2b2b2"/>
<ellipse cx="1640" cy="1380" rx="70" ry="40" fill="#878787"/>
</g></g>
<rect x="282.8" y="1202.8" width="319.09999999999997" height="125.40000000000009" fill="#000" fill-opacity="0.06" stroke="#111" stroke-width="1"/>
<line x1="282.8" y1="1203.2" x2="601.9" y2="1203.2" stroke="#6a4030" stroke-opacity="0.6" stroke-width="0.8"/>
<text x="275.3" y="1206.5" text-anchor="end" font-family="'Liberation Sans',Arial,sans-serif" font-size="9.5" fill="#c8b890" fill-opacity="0.7">49.875</text>
<line x1="279.8" y1="1203.2" x2="282.8" y2="1203.2" stroke="#e8d000" stroke-width="1"/>
<line x1="282.8" y1="1227.8" x2="601.9" y2="1227.8" stroke="#6a4030" stroke-opacity="0.6" stroke-width="0.8"/>
<text x="275.3" y="1231.1" text-anchor="end" font-family="'Liberation Sans',Arial,sans-serif" font-size="9.5" fill="#c8b890" fill-opacity="0.7">48.450</text>
<line x1="279.8" y1="1227.8" x2="282.8" y2="1227.8" stroke="#e8d000" stroke-width="1"/>
<line x1="282.8" y1="1252.5" x2="601.9" y2="1252.5" stroke="#6a4030" stroke-opacity="0.6" stroke-width="0.8"/>
<text x="275.3" y="1255.8" text-anchor="end" font-family="'Liberation Sans',Arial,sans-serif" font-size="9.5" fill="#c8b890" fill-opacity="0.7">47.025</text>
<line x1="279.8" y1="1252.5" x2="282.8" y2="1252.5" stroke="#e8d000" stroke-width="1"/>
<line x1="282.8" y1="1277.1" x2="601.9" y2="1277.1" stroke="#6a4030" stroke-opacity="0.6" stroke-width="0.8"/>
<text x="275.3" y="1280.3999999999999" text-anchor="end" font-family="'Liberation Sans',Arial,sans-serif" font-size="9.5" fill="#c8b890" fill-opacity="0.7">45.600</text>
<line x1="279.8" y1="1277.1" x2="282.8" y2="1277.1" stroke="#e8d000" stroke-width="1"/>
<line x1="282.8" y1="1301.8" x2="601.9" y2="1301.8" stroke="#6a4030" stroke-opacity="0.6" stroke-width="0.8"/>
<text x="275.3" y="1305.1" text-anchor="end" font-family="'Liberation Sans',Arial,sans-serif" font-size="9.5" fill="#c8b890" fill-opacity="0.7">44.175</text>
<line x1="279.8" y1="1301.8" x2="282.8" y2="1301.8" stroke="#e8d000" stroke-width="1"/>
<line x1="282.8" y1="1326.4" x2="601.9" y2="1326.4" stroke="#6a4030" stroke-opacity="0.6" stroke-width="0.8"/>
<text x="275.3" y="1329.7" text-anchor="end" font-family="'Liberation Sans',Arial,sans-serif" font-size="9.5" fill="#c8b890" fill-opacity="0.7">42.750</text>
<line x1="279.8" y1="1326.4" x2="282.8" y2="1326.4" stroke="#e8d000" stroke-width="1"/>
<line x1="281.3" y1="1204.8" x2="282.8" y2="1204.8" stroke="#e8d000" stroke-width="0.8"/>
<line x1="281.3" y1="1209.7" x2="282.8" y2="1209.7" stroke="#e8d000" stroke-width="0.8"/>
<line x1="281.3" y1="1214.6" x2="282.8" y2="1214.6" stroke="#e8d000" stroke-width="0.8"/>
<line x1="281.3" y1="1219.5" x2="282.8" y2="1219.5" stroke="#e8d000" stroke-width="0.8"/>
<line x1="281.3" y1="1224.4" x2="282.8" y2="1224.4" stroke="#e8d000" stroke-width="0.8"/>
<line x1="281.3" y1="1229.3" x2="282.8" y2="1229.3" stroke="#e8d000" stroke-width="0.8"/>
<line x1="281.3" y1="1234.2" x2="282.8" y2="1234.2" stroke="#e8d000" stroke-width="0.8"/>
<line x1="281.3" y1="1239.1" x2="282.8" y2="1239.1" stroke="#e8d000" stroke-width="0.8"/>
<line x1="281.3" y1="1244.0" x2="282.8" y2="1244.0" stroke="#e8d000" stroke-width="0.8"/>
<line x1="281.3" y1="1248.9" x2="282.8" y2="1248.9" stroke="#e8d000" stroke-width="0.8"/>
<line x1="281.3" y1="1253.8" x2="282.8" y2="1253.8" stroke="#e8d000" stroke-width="0.8"/>
<line x1="281.3" y1="1258.7" x2="282.8" y2="1258.7" stroke="#e8d000" stroke-width="0.8"/>
<line x1="281.3" y1="1263.6" x2="282.8" y2="1263.6" stroke="#e8d000" stroke-width="0.8"/>
<line x1="281.3" y1="1268.5" x2="282.8" y2="1268.5" stroke="#e8d000" stroke-width="0.8"/>
<line x1="281.3" y1="1273.4" x2="282.8" y2="1273.4" stroke="#e8d000" stroke-width="0.8"/>
<line x1="281.3" y1="1278.3" x2="282.8" y2="1278.3" stroke="#e8d000" stroke-width="0.8"/>
<line x1="281.3" y1="1283.2" x2="282.8" y2="1283.2" stroke="#e8d000" stroke-width="0.8"/>
<line x1="281.3" y1="1288.1" x2="282.8" y2="1288.1" stroke="#e8d000" stroke-width="0.8"/>
<line x1="281.3" y1="1293.0" x2="282.8" y2="1293.0" stroke="#e8d000" stroke-width="0.8"/>
<line x1="281.3" y1="1297.9" x2="282.8" y2="1297.9" stroke="#e8d000" stroke-width="0.8"/>
<line x1="281.3" y1="1302.8" x2="282.8" y2="1302.8" stroke="#e8d000" stroke-width="0.8"/>
<line x1="281.3" y1="1307.7" x2="282.8" y2="1307.7" stroke="#e8d000" stroke-width="0.8"/>
<line x1="281.3" y1="1312.6" x2="282.8" y2="1312.6" stroke="#e8d000" stroke-width="0.8"/>
<line x1="281.3" y1="1317.5" x2="282.8" y2="1317.5" stroke="#e8d000" stroke-width="0.8"/>
<line x1="281.3" y1="1322.4" x2="282.8" y2="1322.4" stroke="#e8d000" stroke-width="0.8"/>
<line x1="281.3" y1="1327.3" x2="282.8" y2="1327.3" stroke="#e8d000" stroke-width="0.8"/>
<line x1="282.8" y1="1328.2" x2="282.8" y2="1332.2" stroke="#e8d000" stroke-width="1"/>
<line x1="293.4" y1="1328.2" x2="293.4" y2="1330.2" stroke="#e8d000" stroke-width="1"/>
<line x1="303.9" y1="1328.2" x2="303.9" y2="1330.2" stroke="#e8d000" stroke-width="1"/>
<line x1="314.4" y1="1328.2" x2="314.4" y2="1330.2" stroke="#e8d000" stroke-width="1"/>
<line x1="325.0" y1="1328.2" x2="325.0" y2="1330.2" stroke="#e8d000" stroke-width="1"/>
<line x1="335.6" y1="1328.2" x2="335.6" y2="1332.2" stroke="#e8d000" stroke-width="1"/>
<line x1="346.1" y1="1328.2" x2="346.1" y2="1330.2" stroke="#e8d000" stroke-width="1"/>
<line x1="356.7" y1="1328.2" x2="356.7" y2="1330.2" stroke="#e8d000" stroke-width="1"/>
<line x1="367.2" y1="1328.2" x2="367.2" y2="1330.2" stroke="#e8d000" stroke-width="1"/>
<line x1="377.8" y1="1328.2" x2="377.8" y2="1330.2" stroke="#e8d000" stroke-width="1"/>
<line x1="388.3" y1="1328.2" x2="388.3" y2="1332.2" stroke="#e8d000" stroke-width="1"/>
<line x1="398.9" y1="1328.2" x2="398.9" y2="1330.2" stroke="#e8d000" stroke-width="1"/>
<line x1="409.4" y1="1328.2" x2="409.4" y2="1330.2" stroke="#e8d000" stroke-width="1"/>
<line x1="420.0" y1="1328.2" x2="420.0" y2="1330.2" stroke="#e8d000" stroke-width="1"/>
<line x1="430.5" y1="1328.2" x2="430.5" y2="1330.2" stroke="#e8d000" stroke-width="1"/>
<line x1="441.1" y1="1328.2" x2="441.1" y2="1332.2" stroke="#e8d000" stroke-width="1"/>
<line x1="451.6" y1="1328.2" x2="451.6" y2="1330.2" stroke="#e8d000" stroke-width="1"/>
<line x1="462.2" y1="1328.2" x2="462.2" y2="1330.2" stroke="#e8d000" stroke-width="1"/>
<line x1="472.7" y1="1328.2" x2="472.7" y2="1330.2" stroke="#e8d000" stroke-width="1"/>
<line x1="483.2" y1="1328.2" x2="483.2" y2="1330.2" stroke="#e8d000" stroke-width="1"/>
<line x1="493.8" y1="1328.2" x2="493.8" y2="1332.2" stroke="#e8d000" stroke-width="1"/>
<line x1="504.4" y1="1328.2" x2="504.4" y2="1330.2" stroke="#e8d000" stroke-width="1"/>
<line x1="514.9" y1="1328.2" x2="514.9" y2="1330.2" stroke="#e8d000" stroke-width="1"/>
<line x1="525.5" y1="1328.2" x2="525.5" y2="1330.2" stroke="#e8d000" stroke-width="1"/>
<line x1="536.0" y1="1328.2" x2="536.0" y2="1330.2" stroke="#e8d000" stroke-width="1"/>
<line x1="546.5" y1="1328.2" x2="546.5" y2="1332.2" stroke="#e8d000" stroke-width="1"/>
<line x1="557.1" y1="1328.2" x2="557.1" y2="1330.2" stroke="#e8d000" stroke-width="1"/>
<line x1="567.7" y1="1328.2" x2="567.7" y2="1330.2" stroke="#e8d000" stroke-width="1"/>
<line x1="578.2" y1="1328.2" x2="578.2" y2="1330.2" stroke="#e8d000" stroke-width="1"/>
<line x1="588.8" y1="1328.2" x2="588.8" y2="1330.2" stroke="#e8d000" stroke-width="1"/>
<line x1="599.3" y1="1328.2" x2="599.3" y2="1332.2" stroke="#e8d000" stroke-width="1"/>
<text x="282.8" y="1347.2" text-anchor="middle" font-family="'Liberation Sans',Arial,sans-serif" font-size="9.5" fill="#c0c0b0" fill-opacity="0.35">0</text>
<text x="335.6" y="1347.2" text-anchor="middle" font-family="'Liberation Sans',Arial,sans-serif" font-size="9.5" fill="#c0c0b0" fill-opacity="0.35">100</text>
<text x="388.4" y="1347.2" text-anchor="middle" font-family="'Liberation Sans',Arial,sans-serif" font-size="9.5" fill="#c0c0b0" fill-opacity="0.35">200</text>
<text x="441.3" y="1347.2" text-anchor="middle" font-family="'Liberation Sans',Arial,sans-serif" font-size="9.5" fill="#c0c0b0" fill-opacity="0.35">300</text>
<text x="494" y="1347.2" text-anchor="middle" font-family="'Liberation Sans',Arial,sans-serif" font-size="9.5" fill="#c0c0b0" fill-opacity="0.35">400</text>
<text x="546.2" y="1347.2" text-anchor="middle" font-family="'Liberation Sans',Arial,sans-serif" font-size="9.5" fill="#c0c0b0" fill-opacity="0.35">500</text>
<text x="598.6" y="1347.2" text-anchor="middle" font-family="'Liberation Sans',Arial,sans-serif" font-size="9.5" fill="#c0c0b0" fill-opacity="0.35">600</text>
<text transform="translate(244.3,1265.5) rotate(-90)" text-anchor="middle" font-family="'Liberation Sans',Arial,sans-serif" font-size="8" fill="#c8b890" fill-opacity="0.55">Height [um]</text>
<path d="M283.8 1274.9 L285.0 1277.8 L286.2 1279.1 L287.5 1282.6 L288.7 1277.7 L289.9 1282.1 L291.1 1260.6 L292.3 1271.1 L293.6 1282.5 L294.8 1275.4 L296.0 1281.4 L297.2 1262.5 L298.4 1271.0 L299.7 1265.6 L300.9 1272.7 L302.1 1273.4 L303.3 1259.9 L304.5 1264.7 L305.8 1266.2 L307.0 1281.4 L308.2 1277.7 L309.4 1263.1 L310.6 1278.4 L311.9 1262.5 L313.1 1273.9 L314.3 1262.1 L315.5 1259.0 L316.7 1279.9 L317.9 1263.9 L319.2 1264.0 L320.4 1282.3 L321.6 1279.6 L322.8 1265.6 L324.0 1281.7 L325.3 1271.5 L326.5 1274.8 L327.7 1263.3 L328.9 1281.0 L330.1 1274.9 L331.4 1281.5 L332.6 1279.7 L333.8 1265.4 L335.0 1266.8 L336.2 1262.1 L337.5 1261.6 L338.7 1259.7 L339.9 1265.3 L341.1 1272.5 L342.3 1258.1 L343.6 1274.3 L344.8 1266.1 L346.0 1265.4 L347.2 1277.6 L348.4 1269.3 L349.7 1264.8 L350.9 1267.8 L352.1 1271.9 L353.3 1254.8 L354.5 1275.0 L355.8 1250.2 L357.0 1265.6 L358.2 1265.9 L359.4 1244.1 L360.6 1260.7 L361.9 1249.0 L363.1 1252.8 L364.3 1238.1 L365.5 1238.4 L366.7 1241.3 L368.0 1260.4 L369.2 1243.7 L370.4 1259.6 L371.6 1267.0 L372.8 1270.9 L374.1 1260.2 L375.3 1263.7 L376.5 1270.3 L377.7 1278.0 L378.9 1262.6 L380.1 1278.0 L381.4 1279.1 L382.6 1280.6 L383.8 1260.8 L385.0 1282.6 L386.2 1262.1 L387.5 1268.0 L388.7 1274.4 L389.9 1281.7 L391.1 1267.8 L392.3 1281.8 L393.6 1272.6 L394.8 1266.9 L396.0 1266.9 L397.2 1263.5 L398.4 1261.0 L399.7 1262.6 L400.9 1275.5 L402.1 1282.7 L403.3 1262.6 L404.5 1259.8 L405.8 1282.2 L407.0 1271.2 L408.2 1268.0 L409.4 1263.8 L410.6 1272.3 L411.9 1277.7 L413.1 1268.7 L414.3 1267.8 L415.5 1258.9 L416.7 1279.4 L418.0 1258.1 L419.2 1269.0 L420.4 1277.2 L421.6 1260.1 L422.8 1274.4 L424.1 1279.6 L425.3 1271.8 L426.5 1275.5 L427.7 1259.1 L428.9 1266.9 L430.2 1259.9 L431.4 1276.6 L432.6 1263.3 L433.8 1267.1 L435.0 1280.1 L436.3 1276.5 L437.5 1279.5 L438.7 1266.9 L439.9 1267.7 L441.1 1273.5 L442.4 1267.5 L443.6 1263.0 L444.8 1265.7 L446.0 1259.5 L447.2 1265.1 L448.4 1279.8 L449.7 1279.2 L450.9 1271.2 L452.1 1268.2 L453.3 1264.4 L454.5 1258.5 L455.8 1263.0 L457.0 1275.3 L458.2 1277.4 L459.4 1265.3 L460.6 1275.6 L461.9 1275.5 L463.1 1273.6 L464.3 1273.0 L465.5 1275.4 L466.7 1266.0 L468.0 1274.3 L469.2 1264.3 L470.4 1269.3 L471.6 1276.2 L472.8 1274.5 L474.1 1265.1 L475.3 1280.8 L476.5 1273.8 L477.7 1272.3 L478.9 1258.8 L480.2 1271.7 L481.4 1264.7 L482.6 1274.9 L483.8 1270.0 L485.0 1278.6 L486.3 1274.7 L487.5 1278.4 L488.7 1267.7 L489.9 1274.9 L491.1 1277.2 L492.4 1279.5 L493.6 1268.0 L494.8 1279.9 L496.0 1280.6 L497.2 1276.3 L498.5 1283.3 L499.7 1282.9 L500.9 1272.4 L502.1 1272.7 L503.3 1264.0 L504.6 1280.1 L505.8 1282.5 L507.0 1271.4 L508.2 1276.5 L509.4 1277.1 L510.6 1277.3 L511.9 1263.8 L513.1 1278.2 L514.3 1273.3 L515.5 1275.1 L516.7 1269.0 L518.0 1273.6 L519.2 1277.0 L520.4 1273.4 L521.6 1275.1 L522.8 1258.1 L524.1 1261.0 L525.3 1267.4 L526.5 1272.0 L527.7 1261.3 L528.9 1272.1 L530.2 1270.4 L531.4 1255.9 L532.6 1265.9 L533.8 1259.6 L535.0 1255.1 L536.3 1256.6 L537.5 1260.7 L538.7 1257.1 L539.9 1257.1 L541.1 1253.0 L542.4 1263.0 L543.6 1260.6 L544.8 1265.9 L546.0 1265.2 L547.2 1256.5 L548.5 1272.3 L549.7 1250.5 L550.9 1260.0 L552.1 1256.9 L553.3 1259.9 L554.6 1252.8 L555.8 1270.0 L557.0 1259.0 L558.2 1250.9 L559.4 1264.8 L560.7 1252.4 L561.9 1263.4 L563.1 1258.6 L564.3 1264.5 L565.5 1273.8 L566.8 1270.7 L568.0 1261.3 L569.2 1271.0 L570.4 1267.2 L571.6 1260.9 L572.8 1255.8 L574.1 1267.0 L575.3 1266.6 L576.5 1276.4 L577.7 1277.0 L578.9 1268.7 L580.2 1262.8 L581.4 1276.2 L582.6 1255.1 L583.8 1258.0 L585.0 1269.3 L586.3 1270.8 L587.5 1259.7 L588.7 1271.7 L589.9 1278.2 L591.1 1266.1 L592.4 1267.7 L593.6 1262.9 L594.8 1264.6 L596.0 1281.1 L597.2 1267.0 L598.5 1281.0 L599.7 1279.9 L600.9 1272.3" fill="none" stroke="#a898c8" stroke-width="1.0" stroke-opacity="0.85" stroke-linejoin="round"/>
<path d="M283.8 1247.3 L285.0 1267.6 L286.2 1275.7 L287.5 1288.8 L288.7 1289.9 L289.9 1298.7 L291.1 1284.0 L292.3 1273.7 L293.6 1271.9 L294.8 1263.2 L296.0 1270.4 L297.2 1261.6 L298.4 1251.5 L299.7 1253.7 L300.9 1251.1 L302.1 1237.0 L303.3 1249.7 L304.5 1249.9 L305.8 1266.6 L307.0 1266.7 L308.2 1258.2 L309.4 1264.6 L310.6 1272.8 L311.9 1299.3 L313.1 1296.1 L314.3 1306.2 L315.5 1303.3 L316.7 1303.7 L317.9 1298.6 L319.2 1295.6 L320.4 1278.4 L321.6 1284.5 L322.8 1271.8 L324.0 1273.3 L325.3 1269.0 L326.5 1268.2 L327.7 1272.0 L328.9 1270.3 L330.1 1267.7 L331.4 1273.8 L332.6 1270.2 L333.8 1259.3 L335.0 1262.4 L336.2 1265.3 L337.5 1273.0 L338.7 1272.0 L339.9 1265.7 L341.1 1256.0 L342.3 1269.5 L343.6 1262.8 L344.8 1264.7 L346.0 1266.3 L347.2 1263.9 L348.4 1260.1 L349.7 1266.7 L350.9 1256.0 L352.1 1255.0 L353.3 1262.3 L354.5 1249.7 L355.8 1250.8 L357.0 1260.0 L358.2 1246.0 L359.4 1259.0 L360.6 1252.1 L361.9 1239.9 L363.1 1227.8 L364.3 1226.8 L365.5 1220.5 L366.7 1203.8 L368.0 1204.0 L369.2 1206.1 L370.4 1208.5 L371.6 1210.8 L372.8 1214.2 L374.1 1229.2 L375.3 1240.1 L376.5 1232.3 L377.7 1238.9 L378.9 1250.8 L380.1 1251.0 L381.4 1251.0 L382.6 1243.2 L383.8 1260.3 L385.0 1270.1 L386.2 1275.7 L387.5 1275.2 L388.7 1267.5 L389.9 1284.6 L391.1 1274.8 L392.3 1282.9 L393.6 1290.2 L394.8 1289.0 L396.0 1283.0 L397.2 1291.2 L398.4 1308.4 L399.7 1300.7 L400.9 1314.8 L402.1 1316.4 L403.3 1316.0 L404.5 1327.1 L405.8 1318.1 L407.0 1319.0 L408.2 1322.0 L409.4 1313.3 L410.6 1308.8 L411.9 1313.5 L413.1 1312.0 L414.3 1310.6 L415.5 1294.6 L416.7 1298.8 L418.0 1296.9 L419.2 1302.9 L420.4 1302.3 L421.6 1312.4 L422.8 1304.6 L424.1 1301.5 L425.3 1315.7 L426.5 1308.5 L427.7 1319.6 L428.9 1319.3 L430.2 1327.2 L431.4 1322.7 L432.6 1324.2 L433.8 1316.0 L435.0 1316.6 L436.3 1304.2 L437.5 1304.2 L438.7 1289.9 L439.9 1272.7 L441.1 1264.8 L442.4 1259.1 L443.6 1259.7 L444.8 1246.4 L446.0 1255.5 L447.2 1255.4 L448.4 1247.1 L449.7 1260.3 L450.9 1253.1 L452.1 1257.3 L453.3 1269.1 L454.5 1265.8 L455.8 1279.7 L457.0 1274.1 L458.2 1271.8 L459.4 1280.4 L460.6 1267.0 L461.9 1280.0 L463.1 1268.6 L464.3 1271.1 L465.5 1286.2 L466.7 1282.1 L468.0 1274.4 L469.2 1272.9 L470.4 1288.5 L471.6 1283.0 L472.8 1286.0 L474.1 1274.2 L475.3 1283.5 L476.5 1279.4 L477.7 1278.1 L478.9 1280.8 L480.2 1286.8 L481.4 1283.1 L482.6 1284.7 L483.8 1281.1 L485.0 1294.4 L486.3 1291.8 L487.5 1295.1 L488.7 1288.7 L489.9 1296.3 L491.1 1290.2 L492.4 1291.4 L493.6 1290.7 L494.8 1293.2 L496.0 1286.5 L497.2 1280.5 L498.5 1278.8 L499.7 1281.3 L500.9 1277.8 L502.1 1292.6 L503.3 1284.9 L504.6 1289.8 L505.8 1276.0 L507.0 1265.2 L508.2 1258.7 L509.4 1256.7 L510.6 1260.0 L511.9 1270.3 L513.1 1274.7 L514.3 1286.4 L515.5 1295.3 L516.7 1304.9 L518.0 1306.7 L519.2 1312.6 L520.4 1292.4 L521.6 1285.5 L522.8 1278.3 L524.1 1272.2 L525.3 1274.5 L526.5 1275.1 L527.7 1282.2 L528.9 1277.6 L530.2 1297.6 L531.4 1291.3 L532.6 1304.7 L533.8 1302.4 L535.0 1303.1 L536.3 1299.2 L537.5 1306.5 L538.7 1289.8 L539.9 1297.3 L541.1 1287.8 L542.4 1292.2 L543.6 1291.0 L544.8 1279.3 L546.0 1279.3 L547.2 1275.2 L548.5 1275.0 L549.7 1265.6 L550.9 1262.9 L552.1 1263.9 L553.3 1244.0 L554.6 1235.6 L555.8 1233.3 L557.0 1227.9 L558.2 1236.4 L559.4 1237.5 L560.7 1229.8 L561.9 1234.2 L563.1 1245.4 L564.3 1253.8 L565.5 1251.9 L566.8 1250.9 L568.0 1262.9 L569.2 1246.8 L570.4 1248.1 L571.6 1261.3 L572.8 1255.1 L574.1 1249.3 L575.3 1259.3 L576.5 1268.2 L577.7 1260.7 L578.9 1258.4 L580.2 1254.4 L581.4 1254.3 L582.6 1269.6 L583.8 1265.0 L585.0 1277.8 L586.3 1268.1 L587.5 1278.2 L588.7 1281.1 L589.9 1292.3 L591.1 1289.2 L592.4 1293.2 L593.6 1292.2 L594.8 1282.5 L596.0 1267.4 L597.2 1255.9 L598.5 1262.7 L599.7 1241.6 L600.9 1245.2" fill="none" stroke="#b4f0d8" stroke-width="1.8" stroke-opacity="0.95" stroke-linejoin="round"/>
<path d="M283.8 1264.7 L285.0 1265.1 L286.2 1265.5 L287.5 1266.8 L288.7 1268.1 L289.9 1270.2 L291.1 1272.5 L292.3 1274.4 L293.6 1276.8 L294.8 1278.4 L296.0 1280.2 L297.2 1282.1 L298.4 1283.4 L299.7 1284.2 L300.9 1284.5 L302.1 1284.5 L303.3 1283.7 L304.5 1282.2 L305.8 1279.7 L307.0 1277.1 L308.2 1274.2 L309.4 1270.6 L310.6 1267.1 L311.9 1263.9 L313.1 1260.8 L314.3 1258.5 L315.5 1256.4 L316.7 1254.6 L317.9 1253.7 L319.2 1253.6 L320.4 1254.7 L321.6 1256.7 L322.8 1259.8 L324.0 1263.5 L325.3 1267.2 L326.5 1271.0 L327.7 1275.0 L328.9 1277.6 L330.1 1279.8 L331.4 1281.0 L332.6 1281.2 L333.8 1280.4 L335.0 1279.4 L336.2 1277.7 L337.5 1276.1 L338.7 1273.9 L339.9 1272.0 L341.1 1270.0 L342.3 1268.6 L343.6 1267.5 L344.8 1267.0 L346.0 1267.1 L347.2 1266.8 L348.4 1266.6 L349.7 1265.9 L350.9 1265.3 L352.1 1264.3 L353.3 1264.1 L354.5 1263.3 L355.8 1262.7 L357.0 1262.4 L358.2 1262.4 L359.4 1260.8 L360.6 1257.2 L361.9 1251.4 L363.1 1244.7 L364.3 1238.7 L365.5 1233.0 L366.7 1228.8 L368.0 1227.2 L369.2 1227.4 L370.4 1228.4 L371.6 1230.3 L372.8 1232.3 L374.1 1234.6 L375.3 1237.1 L376.5 1240.1 L377.7 1242.8 L378.9 1245.4 L380.1 1247.5 L381.4 1249.7 L382.6 1251.1 L383.8 1251.7 L385.0 1251.5 L386.2 1252.6 L387.5 1253.9 L388.7 1256.5 L389.9 1259.3 L391.1 1263.0 L392.3 1266.8 L393.6 1270.6 L394.8 1275.1 L396.0 1279.8 L397.2 1283.9 L398.4 1288.0 L399.7 1291.8 L400.9 1295.3 L402.1 1298.2 L403.3 1300.1 L404.5 1301.8 L405.8 1302.2 L407.0 1301.9 L408.2 1301.7 L409.4 1300.3 L410.6 1298.6 L411.9 1297.4 L413.1 1295.0 L414.3 1293.4 L415.5 1291.7 L416.7 1290.6 L418.0 1289.4 L419.2 1288.9 L420.4 1289.0 L421.6 1289.5 L422.8 1290.7 L424.1 1291.9 L425.3 1293.7 L426.5 1295.0 L427.7 1296.6 L428.9 1297.9 L430.2 1299.4 L431.4 1300.0 L432.6 1300.2 L433.8 1299.4 L435.0 1297.6 L436.3 1294.8 L437.5 1291.8 L438.7 1287.8 L439.9 1283.7 L441.1 1280.2 L442.4 1277.0 L443.6 1275.2 L444.8 1274.0 L446.0 1273.4 L447.2 1273.6 L448.4 1273.1 L449.7 1273.0 L450.9 1272.6 L452.1 1272.0 L453.3 1271.6 L454.5 1270.8 L455.8 1270.1 L457.0 1269.9 L458.2 1269.6 L459.4 1269.1 L460.6 1269.1 L461.9 1269.2 L463.1 1269.6 L464.3 1270.7 L465.5 1272.2 L466.7 1273.9 L468.0 1276.0 L469.2 1278.0 L470.4 1280.5 L471.6 1282.5 L472.8 1284.5 L474.1 1286.1 L475.3 1287.5 L476.5 1288.4 L477.7 1289.1 L478.9 1288.9 L480.2 1288.9 L481.4 1288.7 L482.6 1288.3 L483.8 1287.7 L485.0 1287.0 L486.3 1286.5 L487.5 1286.1 L488.7 1285.7 L489.9 1285.4 L491.1 1285.0 L492.4 1284.6 L493.6 1284.9 L494.8 1284.4 L496.0 1284.4 L497.2 1283.5 L498.5 1283.3 L499.7 1282.5 L500.9 1281.9 L502.1 1281.0 L503.3 1280.1 L504.6 1279.5 L505.8 1278.8 L507.0 1278.3 L508.2 1277.9 L509.4 1278.2 L510.6 1280.4 L511.9 1283.6 L513.1 1288.1 L514.3 1291.0 L515.5 1292.2 L516.7 1291.7 L518.0 1290.9 L519.2 1289.2 L520.4 1287.6 L521.6 1285.7 L522.8 1283.7 L524.1 1281.9 L525.3 1280.6 L526.5 1280.0 L527.7 1280.4 L528.9 1280.8 L530.2 1281.5 L531.4 1282.3 L532.6 1283.7 L533.8 1284.5 L535.0 1285.8 L536.3 1287.0 L537.5 1288.2 L538.7 1289.3 L539.9 1289.5 L541.1 1290.1 L542.4 1290.2 L543.6 1288.8 L544.8 1286.5 L546.0 1283.7 L547.2 1279.8 L548.5 1275.3 L549.7 1270.4 L550.9 1265.4 L552.1 1261.0 L553.3 1257.3 L554.6 1254.5 L555.8 1252.2 L557.0 1251.5 L558.2 1251.9 L559.4 1253.0 L560.7 1254.0 L561.9 1255.8 L563.1 1258.1 L564.3 1260.6 L565.5 1262.8 L566.8 1264.4 L568.0 1265.8 L569.2 1266.9 L570.4 1267.1 L571.6 1267.1 L572.8 1267.2 L574.1 1266.9 L575.3 1267.3 L576.5 1267.7 L577.7 1268.0 L578.9 1267.8 L580.2 1268.3 L581.4 1268.4 L582.6 1268.8 L583.8 1268.5 L585.0 1269.0 L586.3 1269.2 L587.5 1269.1 L588.7 1268.9 L589.9 1269.0 L591.1 1268.6 L592.4 1267.1 L593.6 1264.9 L594.8 1262.3 L596.0 1258.9 L597.2 1256.3 L598.5 1253.9 L599.7 1252.3 L600.9 1251.8" fill="none" stroke="#e6f6ee" stroke-width="1.2" stroke-opacity="0.95" stroke-linejoin="round"/>
<line x1="138.3" y1="1344.6" x2="537" y2="1361.7" stroke="#a05040" stroke-width="1.6"/>
<rect x="236.9" y="1346.9" width="3" height="3" fill="#111"/>
<rect x="436.5" y="1356.2" width="3" height="3" fill="#111"/>
<rect x="135.5" y="1341.8" width="5.6" height="5.6" fill="#dde8ff" stroke="#3060c0" stroke-width="1"/>
<rect x="534.2" y="1358.9" width="5.6" height="5.6" fill="#dde8ff" stroke="#3060c0" stroke-width="1"/>
<rect x="327.65" y="1355.15" width="20" height="2" fill="#222" fill-opacity="0.6"/>
<rect x="852.8" y="1202.1" width="316.5" height="125.40000000000009" fill="#000" fill-opacity="0.06" stroke="#111" stroke-width="1"/>
<line x1="852.8" y1="1213.1" x2="1169.3" y2="1213.1" stroke="#6a4030" stroke-opacity="0.6" stroke-width="0.8"/>
<text x="845.3" y="1216.3999999999999" text-anchor="end" font-family="'Liberation Sans',Arial,sans-serif" font-size="9.5" fill="#c8b890" fill-opacity="0.7">60.685</text>
<line x1="849.8" y1="1213.1" x2="852.8" y2="1213.1" stroke="#e8d000" stroke-width="1"/>
<line x1="852.8" y1="1237.7" x2="1169.3" y2="1237.7" stroke="#6a4030" stroke-opacity="0.6" stroke-width="0.8"/>
<text x="845.3" y="1241.0" text-anchor="end" font-family="'Liberation Sans',Arial,sans-serif" font-size="9.5" fill="#c8b890" fill-opacity="0.7">59.540</text>
<line x1="849.8" y1="1237.7" x2="852.8" y2="1237.7" stroke="#e8d000" stroke-width="1"/>
<line x1="852.8" y1="1262.3" x2="1169.3" y2="1262.3" stroke="#6a4030" stroke-opacity="0.6" stroke-width="0.8"/>
<text x="845.3" y="1265.6" text-anchor="end" font-family="'Liberation Sans',Arial,sans-serif" font-size="9.5" fill="#c8b890" fill-opacity="0.7">58.395</text>
<line x1="849.8" y1="1262.3" x2="852.8" y2="1262.3" stroke="#e8d000" stroke-width="1"/>
<line x1="852.8" y1="1286.9" x2="1169.3" y2="1286.9" stroke="#6a4030" stroke-opacity="0.6" stroke-width="0.8"/>
<text x="845.3" y="1290.2" text-anchor="end" font-family="'Liberation Sans',Arial,sans-serif" font-size="9.5" fill="#c8b890" fill-opacity="0.7">57.250</text>
<line x1="849.8" y1="1286.9" x2="852.8" y2="1286.9" stroke="#e8d000" stroke-width="1"/>
<line x1="852.8" y1="1311.5" x2="1169.3" y2="1311.5" stroke="#6a4030" stroke-opacity="0.6" stroke-width="0.8"/>
<text x="845.3" y="1314.8" text-anchor="end" font-family="'Liberation Sans',Arial,sans-serif" font-size="9.5" fill="#c8b890" fill-opacity="0.7">56.105</text>
<line x1="849.8" y1="1311.5" x2="852.8" y2="1311.5" stroke="#e8d000" stroke-width="1"/>
<line x1="851.3" y1="1204.1" x2="852.8" y2="1204.1" stroke="#e8d000" stroke-width="0.8"/>
<line x1="851.3" y1="1209.0" x2="852.8" y2="1209.0" stroke="#e8d000" stroke-width="0.8"/>
<line x1="851.3" y1="1213.9" x2="852.8" y2="1213.9" stroke="#e8d000" stroke-width="0.8"/>
<line x1="851.3" y1="1218.8" x2="852.8" y2="1218.8" stroke="#e8d000" stroke-width="0.8"/>
<line x1="851.3" y1="1223.7" x2="852.8" y2="1223.7" stroke="#e8d000" stroke-width="0.8"/>
<line x1="851.3" y1="1228.6" x2="852.8" y2="1228.6" stroke="#e8d000" stroke-width="0.8"/>
<line x1="851.3" y1="1233.5" x2="852.8" y2="1233.5" stroke="#e8d000" stroke-width="0.8"/>
<line x1="851.3" y1="1238.4" x2="852.8" y2="1238.4" stroke="#e8d000" stroke-width="0.8"/>
<line x1="851.3" y1="1243.3" x2="852.8" y2="1243.3" stroke="#e8d000" stroke-width="0.8"/>
<line x1="851.3" y1="1248.2" x2="852.8" y2="1248.2" stroke="#e8d000" stroke-width="0.8"/>
<line x1="851.3" y1="1253.1" x2="852.8" y2="1253.1" stroke="#e8d000" stroke-width="0.8"/>
<line x1="851.3" y1="1258.0" x2="852.8" y2="1258.0" stroke="#e8d000" stroke-width="0.8"/>
<line x1="851.3" y1="1262.9" x2="852.8" y2="1262.9" stroke="#e8d000" stroke-width="0.8"/>
<line x1="851.3" y1="1267.8" x2="852.8" y2="1267.8" stroke="#e8d000" stroke-width="0.8"/>
<line x1="851.3" y1="1272.7" x2="852.8" y2="1272.7" stroke="#e8d000" stroke-width="0.8"/>
<line x1="851.3" y1="1277.6" x2="852.8" y2="1277.6" stroke="#e8d000" stroke-width="0.8"/>
<line x1="851.3" y1="1282.5" x2="852.8" y2="1282.5" stroke="#e8d000" stroke-width="0.8"/>
<line x1="851.3" y1="1287.4" x2="852.8" y2="1287.4" stroke="#e8d000" stroke-width="0.8"/>
<line x1="851.3" y1="1292.3" x2="852.8" y2="1292.3" stroke="#e8d000" stroke-width="0.8"/>
<line x1="851.3" y1="1297.2" x2="852.8" y2="1297.2" stroke="#e8d000" stroke-width="0.8"/>
<line x1="851.3" y1="1302.1" x2="852.8" y2="1302.1" stroke="#e8d000" stroke-width="0.8"/>
<line x1="851.3" y1="1307.0" x2="852.8" y2="1307.0" stroke="#e8d000" stroke-width="0.8"/>
<line x1="851.3" y1="1311.9" x2="852.8" y2="1311.9" stroke="#e8d000" stroke-width="0.8"/>
<line x1="851.3" y1="1316.8" x2="852.8" y2="1316.8" stroke="#e8d000" stroke-width="0.8"/>
<line x1="851.3" y1="1321.7" x2="852.8" y2="1321.7" stroke="#e8d000" stroke-width="0.8"/>
<line x1="851.3" y1="1326.6" x2="852.8" y2="1326.6" stroke="#e8d000" stroke-width="0.8"/>
<line x1="852.8" y1="1327.5" x2="852.8" y2="1331.5" stroke="#e8d000" stroke-width="1"/>
<line x1="870.4" y1="1327.5" x2="870.4" y2="1329.5" stroke="#e8d000" stroke-width="1"/>
<line x1="888.0" y1="1327.5" x2="888.0" y2="1329.5" stroke="#e8d000" stroke-width="1"/>
<line x1="905.6" y1="1327.5" x2="905.6" y2="1329.5" stroke="#e8d000" stroke-width="1"/>
<line x1="923.2" y1="1327.5" x2="923.2" y2="1329.5" stroke="#e8d000" stroke-width="1"/>
<line x1="940.8" y1="1327.5" x2="940.8" y2="1331.5" stroke="#e8d000" stroke-width="1"/>
<line x1="958.4" y1="1327.5" x2="958.4" y2="1329.5" stroke="#e8d000" stroke-width="1"/>
<line x1="976.0" y1="1327.5" x2="976.0" y2="1329.5" stroke="#e8d000" stroke-width="1"/>
<line x1="993.6" y1="1327.5" x2="993.6" y2="1329.5" stroke="#e8d000" stroke-width="1"/>
<line x1="1011.2" y1="1327.5" x2="1011.2" y2="1329.5" stroke="#e8d000" stroke-width="1"/>
<line x1="1028.8" y1="1327.5" x2="1028.8" y2="1331.5" stroke="#e8d000" stroke-width="1"/>
<line x1="1046.4" y1="1327.5" x2="1046.4" y2="1329.5" stroke="#e8d000" stroke-width="1"/>
<line x1="1064.0" y1="1327.5" x2="1064.0" y2="1329.5" stroke="#e8d000" stroke-width="1"/>
<line x1="1081.6" y1="1327.5" x2="1081.6" y2="1329.5" stroke="#e8d000" stroke-width="1"/>
<line x1="1099.2" y1="1327.5" x2="1099.2" y2="1329.5" stroke="#e8d000" stroke-width="1"/>
<line x1="1116.8" y1="1327.5" x2="1116.8" y2="1331.5" stroke="#e8d000" stroke-width="1"/>
<line x1="1134.4" y1="1327.5" x2="1134.4" y2="1329.5" stroke="#e8d000" stroke-width="1"/>
<line x1="1152.0" y1="1327.5" x2="1152.0" y2="1329.5" stroke="#e8d000" stroke-width="1"/>
<line x1="1169.6" y1="1327.5" x2="1169.6" y2="1329.5" stroke="#e8d000" stroke-width="1"/>
<text x="852.8" y="1346.5" text-anchor="middle" font-family="'Liberation Sans',Arial,sans-serif" font-size="9.5" fill="#c0c0b0" fill-opacity="0.35">0</text>
<text x="940.8" y="1346.5" text-anchor="middle" font-family="'Liberation Sans',Arial,sans-serif" font-size="9.5" fill="#c0c0b0" fill-opacity="0.35">200</text>
<text x="1028.9" y="1346.5" text-anchor="middle" font-family="'Liberation Sans',Arial,sans-serif" font-size="9.5" fill="#c0c0b0" fill-opacity="0.35">400</text>
<text x="1115.8" y="1346.5" text-anchor="middle" font-family="'Liberation Sans',Arial,sans-serif" font-size="9.5" fill="#c0c0b0" fill-opacity="0.35">600</text>
<text transform="translate(814.3,1264.8) rotate(-90)" text-anchor="middle" font-family="'Liberation Sans',Arial,sans-serif" font-size="8" fill="#c8b890" fill-opacity="0.55">Height [um]</text>
<path d="M853.8 1207.6 L855.0 1205.7 L856.2 1203.1 L857.4 1226.2 L858.6 1204.9 L859.8 1225.0 L861.1 1242.2 L862.3 1222.8 L863.5 1241.4 L864.7 1246.7 L865.9 1231.6 L867.1 1242.4 L868.3 1251.8 L869.5 1243.4 L870.7 1250.3 L871.9 1231.6 L873.2 1232.1 L874.4 1226.4 L875.6 1236.5 L876.8 1247.5 L878.0 1236.4 L879.2 1241.3 L880.4 1229.5 L881.6 1240.8 L882.8 1222.3 L884.0 1229.1 L885.2 1241.9 L886.5 1244.7 L887.7 1236.7 L888.9 1227.6 L890.1 1233.5 L891.3 1232.0 L892.5 1235.7 L893.7 1254.5 L894.9 1239.6 L896.1 1263.0 L897.3 1264.1 L898.6 1239.4 L899.8 1249.3 L901.0 1253.0 L902.2 1239.3 L903.4 1251.7 L904.6 1266.5 L905.8 1243.0 L907.0 1257.8 L908.2 1243.6 L909.4 1257.6 L910.7 1267.9 L911.9 1248.5 L913.1 1244.2 L914.3 1248.1 L915.5 1263.0 L916.7 1248.0 L917.9 1250.1 L919.1 1262.3 L920.3 1274.6 L921.5 1259.0 L922.7 1257.7 L924.0 1264.1 L925.2 1246.9 L926.4 1260.7 L927.6 1247.7 L928.8 1260.2 L930.0 1270.2 L931.2 1242.7 L932.4 1257.7 L933.6 1259.5 L934.8 1246.5 L936.1 1251.4 L937.3 1274.8 L938.5 1276.7 L939.7 1252.3 L940.9 1271.6 L942.1 1280.5 L943.3 1260.3 L944.5 1272.3 L945.7 1255.5 L946.9 1265.3 L948.1 1274.9 L949.4 1272.9 L950.6 1279.1 L951.8 1259.3 L953.0 1267.9 L954.2 1284.1 L955.4 1276.4 L956.6 1272.9 L957.8 1271.7 L959.0 1289.3 L960.2 1276.7 L961.5 1259.4 L962.7 1281.9 L963.9 1266.7 L965.1 1268.6 L966.3 1260.7 L967.5 1266.4 L968.7 1261.9 L969.9 1254.1 L971.1 1269.9 L972.3 1254.3 L973.6 1276.6 L974.8 1257.2 L976.0 1284.2 L977.2 1289.4 L978.4 1283.8 L979.6 1292.5 L980.8 1279.2 L982.0 1293.4 L983.2 1282.9 L984.4 1275.4 L985.6 1295.4 L986.9 1276.4 L988.1 1273.6 L989.3 1286.7 L990.5 1271.1 L991.7 1279.7 L992.9 1264.7 L994.1 1284.4 L995.3 1266.3 L996.5 1259.3 L997.7 1286.3 L999.0 1261.5 L1000.2 1284.2 L1001.4 1285.0 L1002.6 1273.5 L1003.8 1255.1 L1005.0 1255.2 L1006.2 1257.3 L1007.4 1259.9 L1008.6 1263.5 L1009.8 1271.1 L1011.0 1250.0 L1012.3 1241.4 L1013.5 1252.7 L1014.7 1239.6 L1015.9 1238.5 L1017.1 1253.4 L1018.3 1259.0 L1019.5 1241.8 L1020.7 1255.3 L1021.9 1265.0 L1023.1 1268.8 L1024.4 1259.2 L1025.6 1275.9 L1026.8 1255.4 L1028.0 1272.4 L1029.2 1274.1 L1030.4 1277.1 L1031.6 1264.9 L1032.8 1252.2 L1034.0 1249.7 L1035.2 1263.0 L1036.5 1251.2 L1037.7 1263.9 L1038.9 1246.7 L1040.1 1267.0 L1041.3 1249.9 L1042.5 1243.5 L1043.7 1247.6 L1044.9 1254.5 L1046.1 1255.6 L1047.3 1248.0 L1048.5 1238.9 L1049.8 1245.5 L1051.0 1257.0 L1052.2 1242.7 L1053.4 1253.5 L1054.6 1225.4 L1055.8 1254.4 L1057.0 1252.2 L1058.2 1243.2 L1059.4 1244.2 L1060.6 1246.1 L1061.9 1258.1 L1063.1 1232.9 L1064.3 1249.7 L1065.5 1245.7 L1066.7 1237.2 L1067.9 1248.5 L1069.1 1247.2 L1070.3 1227.8 L1071.5 1245.5 L1072.7 1239.1 L1073.9 1242.8 L1075.2 1251.0 L1076.4 1237.9 L1077.6 1258.7 L1078.8 1255.5 L1080.0 1273.1 L1081.2 1254.5 L1082.4 1272.6 L1083.6 1270.8 L1084.8 1269.1 L1086.0 1278.4 L1087.3 1255.1 L1088.5 1273.7 L1089.7 1275.6 L1090.9 1278.6 L1092.1 1270.8 L1093.3 1260.5 L1094.5 1263.5 L1095.7 1275.2 L1096.9 1261.2 L1098.1 1256.3 L1099.4 1263.4 L1100.6 1265.2 L1101.8 1265.6 L1103.0 1248.9 L1104.2 1270.2 L1105.4 1256.1 L1106.6 1269.0 L1107.8 1245.7 L1109.0 1274.3 L1110.2 1264.1 L1111.4 1276.7 L1112.7 1278.3 L1113.9 1275.2 L1115.1 1255.1 L1116.3 1264.0 L1117.5 1262.0 L1118.7 1279.9 L1119.9 1263.3 L1121.1 1264.9 L1122.3 1261.9 L1123.5 1262.0 L1124.8 1285.8 L1126.0 1285.6 L1127.2 1265.9 L1128.4 1275.4 L1129.6 1265.9 L1130.8 1266.8 L1132.0 1261.8 L1133.2 1266.4 L1134.4 1248.3 L1135.6 1241.5 L1136.8 1242.6 L1138.1 1228.4 L1139.3 1234.4 L1140.5 1250.1 L1141.7 1223.7 L1142.9 1228.0 L1144.1 1251.2 L1145.3 1231.5 L1146.5 1239.8 L1147.7 1260.0 L1148.9 1254.4 L1150.2 1244.0 L1151.4 1239.5 L1152.6 1245.7 L1153.8 1245.9 L1155.0 1260.0 L1156.2 1264.0 L1157.4 1256.9 L1158.6 1258.7 L1159.8 1257.9 L1161.0 1254.6 L1162.3 1254.2 L1163.5 1254.2 L1164.7 1226.8 L1165.9 1232.6 L1167.1 1229.9 L1168.3 1240.4" fill="none" stroke="#5aa052" stroke-width="1.6" stroke-opacity="0.9" stroke-linejoin="round"/>
<path d="M853.8 1253.8 L855.0 1250.0 L856.2 1262.8 L857.4 1251.4 L858.6 1246.4 L859.8 1248.2 L861.1 1253.0 L862.3 1256.9 L863.5 1255.8 L864.7 1252.4 L865.9 1245.8 L867.1 1251.4 L868.3 1249.4 L869.5 1245.4 L870.7 1255.1 L871.9 1245.8 L873.2 1259.4 L874.4 1258.0 L875.6 1244.5 L876.8 1257.2 L878.0 1249.7 L879.2 1252.5 L880.4 1256.6 L881.6 1260.7 L882.8 1263.8 L884.0 1259.9 L885.2 1246.3 L886.5 1254.9 L887.7 1249.5 L888.9 1241.3 L890.1 1255.1 L891.3 1253.0 L892.5 1263.3 L893.7 1249.1 L894.9 1262.4 L896.1 1254.0 L897.3 1243.2 L898.6 1259.3 L899.8 1248.0 L901.0 1254.5 L902.2 1242.4 L903.4 1240.8 L904.6 1264.5 L905.8 1241.6 L907.0 1244.4 L908.2 1244.7 L909.4 1242.9 L910.7 1261.8 L911.9 1266.3 L913.1 1257.3 L914.3 1250.6 L915.5 1263.4 L916.7 1253.5 L917.9 1243.8 L919.1 1258.2 L920.3 1249.6 L921.5 1247.2 L922.7 1248.5 L924.0 1250.2 L925.2 1244.9 L926.4 1256.0 L927.6 1262.7 L928.8 1254.9 L930.0 1240.3 L931.2 1257.8 L932.4 1240.5 L933.6 1252.4 L934.8 1262.5 L936.1 1257.5 L937.3 1263.5 L938.5 1259.5 L939.7 1246.9 L940.9 1243.6 L942.1 1251.5 L943.3 1257.5 L944.5 1245.8 L945.7 1248.3 L946.9 1259.2 L948.1 1248.7 L949.4 1255.3 L950.6 1253.8 L951.8 1263.8 L953.0 1240.3 L954.2 1244.4 L955.4 1259.8 L956.6 1256.9 L957.8 1242.0 L959.0 1243.0 L960.2 1245.0 L961.5 1253.6 L962.7 1262.9 L963.9 1245.0 L965.1 1244.7 L966.3 1257.2 L967.5 1250.4 L968.7 1261.4 L969.9 1265.3 L971.1 1263.6 L972.3 1257.9 L973.6 1252.2 L974.8 1240.8 L976.0 1260.2 L977.2 1249.6 L978.4 1251.3 L979.6 1255.6 L980.8 1264.2 L982.0 1253.6 L983.2 1263.0 L984.4 1264.2 L985.6 1241.3 L986.9 1248.3 L988.1 1262.2 L989.3 1259.0 L990.5 1264.3 L991.7 1243.9 L992.9 1252.9 L994.1 1263.3 L995.3 1253.1 L996.5 1256.5 L997.7 1264.4 L999.0 1243.5 L1000.2 1240.5 L1001.4 1261.2 L1002.6 1254.1 L1003.8 1244.2 L1005.0 1260.6 L1006.2 1246.4 L1007.4 1242.4 L1008.6 1246.7 L1009.8 1239.9 L1011.0 1249.6 L1012.3 1259.3 L1013.5 1250.8 L1014.7 1264.1 L1015.9 1240.1 L1017.1 1243.5 L1018.3 1242.7 L1019.5 1253.9 L1020.7 1244.2 L1021.9 1256.4 L1023.1 1252.6 L1024.4 1254.1 L1025.6 1261.0 L1026.8 1259.6 L1028.0 1263.0 L1029.2 1243.0 L1030.4 1248.9 L1031.6 1264.1 L1032.8 1249.4 L1034.0 1246.5 L1035.2 1251.6 L1036.5 1243.8 L1037.7 1261.2 L1038.9 1255.7 L1040.1 1241.6 L1041.3 1264.2 L1042.5 1252.7 L1043.7 1245.8 L1044.9 1255.1 L1046.1 1263.9 L1047.3 1248.3 L1048.5 1239.6 L1049.8 1244.4 L1051.0 1240.8 L1052.2 1253.1 L1053.4 1247.4 L1054.6 1261.5 L1055.8 1244.7 L1057.0 1239.8 L1058.2 1251.5 L1059.4 1242.6 L1060.6 1247.5 L1061.9 1245.3 L1063.1 1244.1 L1064.3 1256.1 L1065.5 1263.9 L1066.7 1249.2 L1067.9 1256.2 L1069.1 1248.0 L1070.3 1263.4 L1071.5 1254.0 L1072.7 1240.4 L1073.9 1259.0 L1075.2 1245.2 L1076.4 1241.0 L1077.6 1240.3 L1078.8 1261.6 L1080.0 1258.3 L1081.2 1249.1 L1082.4 1254.4 L1083.6 1258.2 L1084.8 1241.9 L1086.0 1258.3 L1087.3 1258.4 L1088.5 1264.5 L1089.7 1241.5 L1090.9 1254.9 L1092.1 1253.3 L1093.3 1262.1 L1094.5 1249.6 L1095.7 1257.3 L1096.9 1263.5 L1098.1 1249.2 L1099.4 1253.6 L1100.6 1263.4 L1101.8 1241.1 L1103.0 1265.6 L1104.2 1248.4 L1105.4 1252.2 L1106.6 1247.8 L1107.8 1261.1 L1109.0 1254.2 L1110.2 1259.8 L1111.4 1243.1 L1112.7 1263.3 L1113.9 1261.8 L1115.1 1258.2 L1116.3 1246.3 L1117.5 1247.3 L1118.7 1252.3 L1119.9 1242.3 L1121.1 1265.4 L1122.3 1251.2 L1123.5 1265.4 L1124.8 1245.4 L1126.0 1257.5 L1127.2 1261.4 L1128.4 1257.5 L1129.6 1251.7 L1130.8 1241.2 L1132.0 1252.1 L1133.2 1250.9 L1134.4 1265.3 L1135.6 1266.1 L1136.8 1265.7 L1138.1 1266.3 L1139.3 1245.2 L1140.5 1241.6 L1141.7 1248.5 L1142.9 1241.1 L1144.1 1244.0 L1145.3 1255.9 L1146.5 1246.1 L1147.7 1256.8 L1148.9 1250.8 L1150.2 1248.1 L1151.4 1266.1 L1152.6 1245.8 L1153.8 1263.9 L1155.0 1254.7 L1156.2 1258.2 L1157.4 1244.7 L1158.6 1260.4 L1159.8 1264.1 L1161.0 1246.1 L1162.3 1253.3 L1163.5 1258.0 L1164.7 1253.3 L1165.9 1260.6 L1167.1 1257.8 L1168.3 1249.2" fill="none" stroke="#a8a0b8" stroke-width="1.0" stroke-opacity="0.85" stroke-linejoin="round"/>
<path d="M853.8 1208.8 L855.0 1209.6 L856.2 1211.7 L857.4 1215.3 L858.6 1219.8 L859.8 1224.9 L861.1 1230.0 L862.3 1235.3 L863.5 1240.0 L864.7 1243.4 L865.9 1245.1 L867.1 1246.0 L868.3 1245.7 L869.5 1244.8 L870.7 1243.3 L871.9 1241.9 L873.2 1240.1 L874.4 1238.1 L875.6 1236.6 L876.8 1234.8 L878.0 1233.4 L879.2 1233.0 L880.4 1233.2 L881.6 1233.2 L882.8 1234.5 L884.0 1235.5 L885.2 1236.8 L886.5 1237.7 L887.7 1238.8 L888.9 1240.2 L890.1 1240.5 L891.3 1240.7 L892.5 1242.3 L893.7 1245.4 L894.9 1248.6 L896.1 1251.6 L897.3 1252.5 L898.6 1253.0 L899.8 1253.0 L901.0 1253.1 L902.2 1253.6 L903.4 1254.2 L904.6 1254.2 L905.8 1254.8 L907.0 1255.1 L908.2 1255.3 L909.4 1255.1 L910.7 1256.2 L911.9 1257.5 L913.1 1259.2 L914.3 1260.3 L915.5 1261.8 L916.7 1262.5 L917.9 1262.8 L919.1 1262.3 L920.3 1261.7 L921.5 1261.2 L922.7 1260.9 L924.0 1260.2 L925.2 1259.1 L926.4 1258.0 L927.6 1257.7 L928.8 1257.1 L930.0 1256.3 L931.2 1256.1 L932.4 1255.9 L933.6 1256.0 L934.8 1257.2 L936.1 1258.1 L937.3 1259.7 L938.5 1262.0 L939.7 1263.4 L940.9 1265.6 L942.1 1267.2 L943.3 1268.1 L944.5 1268.9 L945.7 1269.0 L946.9 1269.5 L948.1 1270.0 L949.4 1270.4 L950.6 1270.9 L951.8 1271.7 L953.0 1272.4 L954.2 1273.3 L955.4 1273.7 L956.6 1274.2 L957.8 1274.7 L959.0 1274.5 L960.2 1274.7 L961.5 1274.0 L962.7 1272.8 L963.9 1271.5 L965.1 1270.6 L966.3 1269.1 L967.5 1268.1 L968.7 1267.2 L969.9 1266.6 L971.1 1266.0 L972.3 1266.3 L973.6 1268.3 L974.8 1271.3 L976.0 1275.7 L977.2 1280.4 L978.4 1283.8 L979.6 1286.5 L980.8 1286.5 L982.0 1286.0 L983.2 1285.0 L984.4 1283.4 L985.6 1281.4 L986.9 1279.2 L988.1 1277.4 L989.3 1276.2 L990.5 1275.2 L991.7 1274.8 L992.9 1274.4 L994.1 1274.2 L995.3 1273.3 L996.5 1272.6 L997.7 1272.2 L999.0 1271.2 L1000.2 1270.6 L1001.4 1270.6 L1002.6 1270.1 L1003.8 1269.6 L1005.0 1268.1 L1006.2 1266.3 L1007.4 1263.4 L1008.6 1260.0 L1009.8 1256.8 L1011.0 1254.6 L1012.3 1252.0 L1013.5 1251.0 L1014.7 1250.6 L1015.9 1250.9 L1017.1 1251.7 L1018.3 1253.0 L1019.5 1254.7 L1020.7 1256.9 L1021.9 1258.6 L1023.1 1260.9 L1024.4 1262.6 L1025.6 1264.2 L1026.8 1265.6 L1028.0 1266.0 L1029.2 1266.1 L1030.4 1265.8 L1031.6 1264.8 L1032.8 1264.4 L1034.0 1263.5 L1035.2 1262.3 L1036.5 1261.0 L1037.7 1260.2 L1038.9 1259.4 L1040.1 1258.4 L1041.3 1258.0 L1042.5 1258.0 L1043.7 1257.0 L1044.9 1255.7 L1046.1 1253.6 L1047.3 1251.1 L1048.5 1248.6 L1049.8 1245.7 L1051.0 1243.6 L1052.2 1241.9 L1053.4 1240.4 L1054.6 1239.3 L1055.8 1239.8 L1057.0 1240.3 L1058.2 1242.1 L1059.4 1243.6 L1060.6 1245.0 L1061.9 1245.8 L1063.1 1246.2 L1064.3 1245.3 L1065.5 1244.7 L1066.7 1243.0 L1067.9 1241.5 L1069.1 1240.4 L1070.3 1239.5 L1071.5 1239.7 L1072.7 1240.3 L1073.9 1243.1 L1075.2 1246.7 L1076.4 1251.2 L1077.6 1255.8 L1078.8 1259.4 L1080.0 1261.6 L1081.2 1262.7 L1082.4 1262.7 L1083.6 1263.6 L1084.8 1265.4 L1086.0 1267.3 L1087.3 1269.1 L1088.5 1270.9 L1089.7 1272.5 L1090.9 1273.5 L1092.1 1273.6 L1093.3 1273.2 L1094.5 1272.9 L1095.7 1271.9 L1096.9 1270.9 L1098.1 1269.2 L1099.4 1267.5 L1100.6 1265.9 L1101.8 1264.3 L1103.0 1263.3 L1104.2 1262.0 L1105.4 1261.1 L1106.6 1260.4 L1107.8 1260.5 L1109.0 1260.7 L1110.2 1261.4 L1111.4 1262.2 L1112.7 1264.0 L1113.9 1265.2 L1115.1 1266.9 L1116.3 1268.4 L1117.5 1270.1 L1118.7 1271.4 L1119.9 1272.5 L1121.1 1273.4 L1122.3 1273.5 L1123.5 1273.5 L1124.8 1272.7 L1126.0 1271.1 L1127.2 1269.9 L1128.4 1267.9 L1129.6 1266.7 L1130.8 1266.3 L1132.0 1265.4 L1133.2 1262.2 L1134.4 1256.2 L1135.6 1249.1 L1136.8 1242.3 L1138.1 1237.3 L1139.3 1236.3 L1140.5 1236.9 L1141.7 1238.0 L1142.9 1239.8 L1144.1 1242.0 L1145.3 1244.5 L1146.5 1247.0 L1147.7 1249.2 L1148.9 1251.4 L1150.2 1252.4 L1151.4 1252.4 L1152.6 1252.8 L1153.8 1252.2 L1155.0 1250.9 L1156.2 1249.7 L1157.4 1248.5 L1158.6 1246.8 L1159.8 1245.1 L1161.0 1243.1 L1162.3 1241.8 L1163.5 1240.1 L1164.7 1238.7 L1165.9 1237.8 L1167.1 1237.4 L1168.3 1237.1" fill="none" stroke="#f0f0f8" stroke-width="1.3" stroke-opacity="0.95" stroke-linejoin="round"/>
<path d="M1064 1346.5 Q1070 1343 1076 1346.5" fill="none" stroke="#e8e8d0" stroke-width="1.5"/>
<line x1="1081" y1="1345.8" x2="1105" y2="1345.8" stroke="#8890a8" stroke-width="0.8"/>
<line x1="1135" y1="1345.6" x2="1170" y2="1345.6" stroke="#a8b8d8" stroke-width="0.9"/>
<line x1="714.1" y1="1373.7" x2="1124" y2="1379.7" stroke="#c8c8ec" stroke-width="1.6"/>
<rect x="815.0" y="1373.8" width="3" height="3" fill="#111"/>
<rect x="1020.3" y="1376.7" width="3" height="3" fill="#111"/>
<rect x="711.3000000000001" y="1370.9" width="5.6" height="5.6" fill="#dde8ff" stroke="#3060c0" stroke-width="1"/>
<rect x="1121.2" y="1376.9" width="5.6" height="5.6" fill="#dde8ff" stroke="#3060c0" stroke-width="1"/>
<rect x="909.05" y="1378.7" width="20" height="2" fill="#222" fill-opacity="0.6"/>
<rect x="1413.2" y="1201.4" width="319.0999999999999" height="125.39999999999986" fill="#000" fill-opacity="0.06" stroke="#111" stroke-width="1"/>
<line x1="1413.2" y1="1207.3" x2="1732.3" y2="1207.3" stroke="#6a4030" stroke-opacity="0.6" stroke-width="0.8"/>
<text x="1405.7" y="1210.6" text-anchor="end" font-family="'Liberation Sans',Arial,sans-serif" font-size="9.5" fill="#c8b890" fill-opacity="0.7">72.000</text>
<line x1="1410.2" y1="1207.3" x2="1413.2" y2="1207.3" stroke="#e8d000" stroke-width="1"/>
<line x1="1413.2" y1="1232.0" x2="1732.3" y2="1232.0" stroke="#6a4030" stroke-opacity="0.6" stroke-width="0.8"/>
<text x="1405.7" y="1235.3" text-anchor="end" font-family="'Liberation Sans',Arial,sans-serif" font-size="9.5" fill="#c8b890" fill-opacity="0.7">70.400</text>
<line x1="1410.2" y1="1232.0" x2="1413.2" y2="1232.0" stroke="#e8d000" stroke-width="1"/>
<line x1="1413.2" y1="1256.8" x2="1732.3" y2="1256.8" stroke="#6a4030" stroke-opacity="0.6" stroke-width="0.8"/>
<text x="1405.7" y="1260.1" text-anchor="end" font-family="'Liberation Sans',Arial,sans-serif" font-size="9.5" fill="#c8b890" fill-opacity="0.7">68.800</text>
<line x1="1410.2" y1="1256.8" x2="1413.2" y2="1256.8" stroke="#e8d000" stroke-width="1"/>
<line x1="1413.2" y1="1281.5" x2="1732.3" y2="1281.5" stroke="#6a4030" stroke-opacity="0.6" stroke-width="0.8"/>
<text x="1405.7" y="1284.8" text-anchor="end" font-family="'Liberation Sans',Arial,sans-serif" font-size="9.5" fill="#c8b890" fill-opacity="0.7">67.200</text>
<line x1="1410.2" y1="1281.5" x2="1413.2" y2="1281.5" stroke="#e8d000" stroke-width="1"/>
<line x1="1413.2" y1="1306.3" x2="1732.3" y2="1306.3" stroke="#6a4030" stroke-opacity="0.6" stroke-width="0.8"/>
<text x="1405.7" y="1309.6" text-anchor="end" font-family="'Liberation Sans',Arial,sans-serif" font-size="9.5" fill="#c8b890" fill-opacity="0.7">65.600</text>
<line x1="1410.2" y1="1306.3" x2="1413.2" y2="1306.3" stroke="#e8d000" stroke-width="1"/>
<line x1="1411.7" y1="1203.4" x2="1413.2" y2="1203.4" stroke="#e8d000" stroke-width="0.8"/>
<line x1="1411.7" y1="1208.3" x2="1413.2" y2="1208.3" stroke="#e8d000" stroke-width="0.8"/>
<line x1="1411.7" y1="1213.2" x2="1413.2" y2="1213.2" stroke="#e8d000" stroke-width="0.8"/>
<line x1="1411.7" y1="1218.1" x2="1413.2" y2="1218.1" stroke="#e8d000" stroke-width="0.8"/>
<line x1="1411.7" y1="1223.0" x2="1413.2" y2="1223.0" stroke="#e8d000" stroke-width="0.8"/>
<line x1="1411.7" y1="1227.9" x2="1413.2" y2="1227.9" stroke="#e8d000" stroke-width="0.8"/>
<line x1="1411.7" y1="1232.8" x2="1413.2" y2="1232.8" stroke="#e8d000" stroke-width="0.8"/>
<line x1="1411.7" y1="1237.7" x2="1413.2" y2="1237.7" stroke="#e8d000" stroke-width="0.8"/>
<line x1="1411.7" y1="1242.6" x2="1413.2" y2="1242.6" stroke="#e8d000" stroke-width="0.8"/>
<line x1="1411.7" y1="1247.5" x2="1413.2" y2="1247.5" stroke="#e8d000" stroke-width="0.8"/>
<line x1="1411.7" y1="1252.4" x2="1413.2" y2="1252.4" stroke="#e8d000" stroke-width="0.8"/>
<line x1="1411.7" y1="1257.3" x2="1413.2" y2="1257.3" stroke="#e8d000" stroke-width="0.8"/>
<line x1="1411.7" y1="1262.2" x2="1413.2" y2="1262.2" stroke="#e8d000" stroke-width="0.8"/>
<line x1="1411.7" y1="1267.1" x2="1413.2" y2="1267.1" stroke="#e8d000" stroke-width="0.8"/>
<line x1="1411.7" y1="1272.0" x2="1413.2" y2="1272.0" stroke="#e8d000" stroke-width="0.8"/>
<line x1="1411.7" y1="1276.9" x2="1413.2" y2="1276.9" stroke="#e8d000" stroke-width="0.8"/>
<line x1="1411.7" y1="1281.8" x2="1413.2" y2="1281.8" stroke="#e8d000" stroke-width="0.8"/>
<line x1="1411.7" y1="1286.7" x2="1413.2" y2="1286.7" stroke="#e8d000" stroke-width="0.8"/>
<line x1="1411.7" y1="1291.6" x2="1413.2" y2="1291.6" stroke="#e8d000" stroke-width="0.8"/>
<line x1="1411.7" y1="1296.5" x2="1413.2" y2="1296.5" stroke="#e8d000" stroke-width="0.8"/>
<line x1="1411.7" y1="1301.4" x2="1413.2" y2="1301.4" stroke="#e8d000" stroke-width="0.8"/>
<line x1="1411.7" y1="1306.3" x2="1413.2" y2="1306.3" stroke="#e8d000" stroke-width="0.8"/>
<line x1="1411.7" y1="1311.2" x2="1413.2" y2="1311.2" stroke="#e8d000" stroke-width="0.8"/>
<line x1="1411.7" y1="1316.1" x2="1413.2" y2="1316.1" stroke="#e8d000" stroke-width="0.8"/>
<line x1="1411.7" y1="1321.0" x2="1413.2" y2="1321.0" stroke="#e8d000" stroke-width="0.8"/>
<line x1="1411.7" y1="1325.9" x2="1413.2" y2="1325.9" stroke="#e8d000" stroke-width="0.8"/>
<line x1="1413.2" y1="1326.8" x2="1413.2" y2="1330.8" stroke="#e8d000" stroke-width="1"/>
<line x1="1423.0" y1="1326.8" x2="1423.0" y2="1328.8" stroke="#e8d000" stroke-width="1"/>
<line x1="1432.7" y1="1326.8" x2="1432.7" y2="1328.8" stroke="#e8d000" stroke-width="1"/>
<line x1="1442.5" y1="1326.8" x2="1442.5" y2="1328.8" stroke="#e8d000" stroke-width="1"/>
<line x1="1452.3" y1="1326.8" x2="1452.3" y2="1328.8" stroke="#e8d000" stroke-width="1"/>
<line x1="1462.0" y1="1326.8" x2="1462.0" y2="1330.8" stroke="#e8d000" stroke-width="1"/>
<line x1="1471.8" y1="1326.8" x2="1471.8" y2="1328.8" stroke="#e8d000" stroke-width="1"/>
<line x1="1481.6" y1="1326.8" x2="1481.6" y2="1328.8" stroke="#e8d000" stroke-width="1"/>
<line x1="1491.4" y1="1326.8" x2="1491.4" y2="1328.8" stroke="#e8d000" stroke-width="1"/>
<line x1="1501.1" y1="1326.8" x2="1501.1" y2="1328.8" stroke="#e8d000" stroke-width="1"/>
<line x1="1510.9" y1="1326.8" x2="1510.9" y2="1330.8" stroke="#e8d000" stroke-width="1"/>
<line x1="1520.7" y1="1326.8" x2="1520.7" y2="1328.8" stroke="#e8d000" stroke-width="1"/>
<line x1="1530.4" y1="1326.8" x2="1530.4" y2="1328.8" stroke="#e8d000" stroke-width="1"/>
<line x1="1540.2" y1="1326.8" x2="1540.2" y2="1328.8" stroke="#e8d000" stroke-width="1"/>
<line x1="1550.0" y1="1326.8" x2="1550.0" y2="1328.8" stroke="#e8d000" stroke-width="1"/>
<line x1="1559.8" y1="1326.8" x2="1559.8" y2="1330.8" stroke="#e8d000" stroke-width="1"/>
<line x1="1569.5" y1="1326.8" x2="1569.5" y2="1328.8" stroke="#e8d000" stroke-width="1"/>
<line x1="1579.3" y1="1326.8" x2="1579.3" y2="1328.8" stroke="#e8d000" stroke-width="1"/>
<line x1="1589.1" y1="1326.8" x2="1589.1" y2="1328.8" stroke="#e8d000" stroke-width="1"/>
<line x1="1598.8" y1="1326.8" x2="1598.8" y2="1328.8" stroke="#e8d000" stroke-width="1"/>
<line x1="1608.6" y1="1326.8" x2="1608.6" y2="1330.8" stroke="#e8d000" stroke-width="1"/>
<line x1="1618.4" y1="1326.8" x2="1618.4" y2="1328.8" stroke="#e8d000" stroke-width="1"/>
<line x1="1628.1" y1="1326.8" x2="1628.1" y2="1328.8" stroke="#e8d000" stroke-width="1"/>
<line x1="1637.9" y1="1326.8" x2="1637.9" y2="1328.8" stroke="#e8d000" stroke-width="1"/>
<line x1="1647.7" y1="1326.8" x2="1647.7" y2="1328.8" stroke="#e8d000" stroke-width="1"/>
<line x1="1657.5" y1="1326.8" x2="1657.5" y2="1330.8" stroke="#e8d000" stroke-width="1"/>
<line x1="1667.2" y1="1326.8" x2="1667.2" y2="1328.8" stroke="#e8d000" stroke-width="1"/>
<line x1="1677.0" y1="1326.8" x2="1677.0" y2="1328.8" stroke="#e8d000" stroke-width="1"/>
<line x1="1686.8" y1="1326.8" x2="1686.8" y2="1328.8" stroke="#e8d000" stroke-width="1"/>
<line x1="1696.5" y1="1326.8" x2="1696.5" y2="1328.8" stroke="#e8d000" stroke-width="1"/>
<line x1="1706.3" y1="1326.8" x2="1706.3" y2="1330.8" stroke="#e8d000" stroke-width="1"/>
<line x1="1716.1" y1="1326.8" x2="1716.1" y2="1328.8" stroke="#e8d000" stroke-width="1"/>
<line x1="1725.8" y1="1326.8" x2="1725.8" y2="1328.8" stroke="#e8d000" stroke-width="1"/>
<text x="1413.8" y="1345.8" text-anchor="middle" font-family="'Liberation Sans',Arial,sans-serif" font-size="9.5" fill="#c0c0b0" fill-opacity="0.35">0</text>
<text x="1462.7" y="1345.8" text-anchor="middle" font-family="'Liberation Sans',Arial,sans-serif" font-size="9.5" fill="#c0c0b0" fill-opacity="0.35">100</text>
<text x="1511.5" y="1345.8" text-anchor="middle" font-family="'Liberation Sans',Arial,sans-serif" font-size="9.5" fill="#c0c0b0" fill-opacity="0.35">200</text>
<text x="1560.4" y="1345.8" text-anchor="middle" font-family="'Liberation Sans',Arial,sans-serif" font-size="9.5" fill="#c0c0b0" fill-opacity="0.35">300</text>
<text x="1609.2" y="1345.8" text-anchor="middle" font-family="'Liberation Sans',Arial,sans-serif" font-size="9.5" fill="#c0c0b0" fill-opacity="0.35">400</text>
<text x="1658" y="1345.8" text-anchor="middle" font-family="'Liberation Sans',Arial,sans-serif" font-size="9.5" fill="#c0c0b0" fill-opacity="0.35">500</text>
<text x="1706.9" y="1345.8" text-anchor="middle" font-family="'Liberation Sans',Arial,sans-serif" font-size="9.5" fill="#c0c0b0" fill-opacity="0.35">600</text>
<text transform="translate(1374.7,1264.1) rotate(-90)" text-anchor="middle" font-family="'Liberation Sans',Arial,sans-serif" font-size="8" fill="#c8b890" fill-opacity="0.55">Height [um]</text>
<path d="M1414.2 1256.7 L1415.4 1266.1 L1416.6 1266.0 L1417.9 1269.7 L1419.1 1255.1 L1420.3 1256.1 L1421.5 1254.2 L1422.7 1256.0 L1424.0 1267.1 L1425.2 1253.9 L1426.4 1262.7 L1427.6 1255.7 L1428.8 1257.5 L1430.1 1260.5 L1431.3 1269.4 L1432.5 1264.4 L1433.7 1251.3 L1434.9 1257.1 L1436.2 1254.2 L1437.4 1270.2 L1438.6 1268.8 L1439.8 1268.7 L1441.0 1269.2 L1442.3 1267.4 L1443.5 1271.9 L1444.7 1268.5 L1445.9 1256.6 L1447.1 1269.7 L1448.3 1261.7 L1449.6 1267.6 L1450.8 1263.4 L1452.0 1260.5 L1453.2 1259.0 L1454.4 1260.5 L1455.7 1257.9 L1456.9 1253.6 L1458.1 1269.0 L1459.3 1268.6 L1460.5 1272.7 L1461.8 1266.2 L1463.0 1263.2 L1464.2 1267.5 L1465.4 1254.0 L1466.6 1265.9 L1467.9 1260.8 L1469.1 1254.9 L1470.3 1255.5 L1471.5 1262.5 L1472.7 1256.6 L1474.0 1261.1 L1475.2 1264.3 L1476.4 1259.7 L1477.6 1253.9 L1478.8 1261.8 L1480.1 1256.2 L1481.3 1256.2 L1482.5 1255.3 L1483.7 1259.1 L1484.9 1252.6 L1486.2 1265.3 L1487.4 1272.0 L1488.6 1259.6 L1489.8 1266.8 L1491.0 1271.5 L1492.3 1252.0 L1493.5 1254.1 L1494.7 1268.7 L1495.9 1269.4 L1497.1 1265.1 L1498.4 1254.5 L1499.6 1260.1 L1500.8 1270.1 L1502.0 1270.5 L1503.2 1268.7 L1504.5 1255.5 L1505.7 1269.8 L1506.9 1259.2 L1508.1 1266.8 L1509.3 1254.0 L1510.5 1272.4 L1511.8 1264.3 L1513.0 1266.9 L1514.2 1255.7 L1515.4 1264.6 L1516.6 1263.8 L1517.9 1264.0 L1519.1 1258.9 L1520.3 1267.0 L1521.5 1258.5 L1522.7 1257.5 L1524.0 1254.6 L1525.2 1266.0 L1526.4 1253.5 L1527.6 1256.0 L1528.8 1252.5 L1530.1 1265.2 L1531.3 1263.2 L1532.5 1263.0 L1533.7 1251.9 L1534.9 1260.7 L1536.2 1258.5 L1537.4 1253.0 L1538.6 1251.1 L1539.8 1273.0 L1541.0 1253.7 L1542.3 1257.6 L1543.5 1256.9 L1544.7 1264.1 L1545.9 1252.7 L1547.1 1261.3 L1548.4 1259.1 L1549.6 1269.4 L1550.8 1251.1 L1552.0 1258.4 L1553.2 1261.9 L1554.5 1272.3 L1555.7 1262.4 L1556.9 1261.4 L1558.1 1265.7 L1559.3 1257.5 L1560.6 1251.7 L1561.8 1262.0 L1563.0 1271.0 L1564.2 1267.2 L1565.4 1256.7 L1566.7 1266.0 L1567.9 1269.7 L1569.1 1256.7 L1570.3 1263.9 L1571.5 1258.8 L1572.8 1256.4 L1574.0 1257.3 L1575.2 1255.5 L1576.4 1258.7 L1577.6 1251.8 L1578.8 1259.7 L1580.1 1252.9 L1581.3 1267.7 L1582.5 1264.2 L1583.7 1251.1 L1584.9 1268.0 L1586.2 1255.2 L1587.4 1261.6 L1588.6 1263.2 L1589.8 1258.3 L1591.0 1257.4 L1592.3 1260.6 L1593.5 1254.0 L1594.7 1270.0 L1595.9 1253.5 L1597.1 1269.1 L1598.4 1255.8 L1599.6 1257.7 L1600.8 1259.5 L1602.0 1251.7 L1603.2 1253.8 L1604.5 1258.9 L1605.7 1260.7 L1606.9 1270.3 L1608.1 1272.8 L1609.3 1252.0 L1610.6 1262.8 L1611.8 1253.8 L1613.0 1268.7 L1614.2 1258.1 L1615.4 1270.6 L1616.7 1263.0 L1617.9 1253.8 L1619.1 1251.1 L1620.3 1256.5 L1621.5 1270.1 L1622.8 1254.3 L1624.0 1261.5 L1625.2 1259.2 L1626.4 1258.6 L1627.6 1268.6 L1628.9 1255.7 L1630.1 1266.8 L1631.3 1265.7 L1632.5 1271.6 L1633.7 1262.4 L1635.0 1271.2 L1636.2 1260.7 L1637.4 1263.6 L1638.6 1264.7 L1639.8 1269.5 L1641.0 1270.7 L1642.3 1253.5 L1643.5 1254.0 L1644.7 1262.7 L1645.9 1268.9 L1647.1 1262.7 L1648.4 1257.6 L1649.6 1272.2 L1650.8 1257.6 L1652.0 1252.9 L1653.2 1252.1 L1654.5 1251.7 L1655.7 1267.0 L1656.9 1253.4 L1658.1 1266.8 L1659.3 1270.1 L1660.6 1273.0 L1661.8 1268.8 L1663.0 1260.3 L1664.2 1264.7 L1665.4 1269.3 L1666.7 1266.8 L1667.9 1257.4 L1669.1 1267.8 L1670.3 1253.4 L1671.5 1257.8 L1672.8 1272.9 L1674.0 1261.4 L1675.2 1256.9 L1676.4 1268.3 L1677.6 1260.9 L1678.9 1251.1 L1680.1 1251.6 L1681.3 1256.7 L1682.5 1258.3 L1683.7 1271.6 L1685.0 1256.4 L1686.2 1269.7 L1687.4 1269.8 L1688.6 1260.2 L1689.8 1272.9 L1691.1 1267.8 L1692.3 1261.6 L1693.5 1256.8 L1694.7 1261.1 L1695.9 1270.8 L1697.2 1262.8 L1698.4 1255.3 L1699.6 1259.3 L1700.8 1261.5 L1702.0 1255.2 L1703.2 1263.6 L1704.5 1251.8 L1705.7 1269.1 L1706.9 1254.9 L1708.1 1253.3 L1709.3 1264.0 L1710.6 1257.8 L1711.8 1270.5 L1713.0 1261.9 L1714.2 1262.5 L1715.4 1269.4 L1716.7 1255.7 L1717.9 1267.4 L1719.1 1265.3 L1720.3 1260.4 L1721.5 1272.1 L1722.8 1251.5 L1724.0 1270.0 L1725.2 1254.2 L1726.4 1269.5 L1727.6 1254.4 L1728.9 1252.2 L1730.1 1262.0 L1731.3 1271.4" fill="none" stroke="#b0b0b0" stroke-width="1.0" stroke-opacity="0.7" stroke-linejoin="round"/>
<path d="M1414.2 1253.9 L1415.4 1252.5 L1416.6 1246.9 L1417.9 1240.8 L1419.1 1245.6 L1420.3 1241.9 L1421.5 1250.0 L1422.7 1255.9 L1424.0 1251.6 L1425.2 1251.1 L1426.4 1251.3 L1427.6 1261.9 L1428.8 1261.1 L1430.1 1268.2 L1431.3 1265.9 L1432.5 1257.2 L1433.7 1265.3 L1434.9 1263.6 L1436.2 1260.5 L1437.4 1259.5 L1438.6 1257.3 L1439.8 1257.6 L1441.0 1256.5 L1442.3 1255.0 L1443.5 1250.2 L1444.7 1247.9 L1445.9 1254.3 L1447.1 1252.0 L1448.3 1245.1 L1449.6 1252.0 L1450.8 1252.9 L1452.0 1256.4 L1453.2 1266.0 L1454.4 1273.4 L1455.7 1271.1 L1456.9 1277.5 L1458.1 1278.5 L1459.3 1287.3 L1460.5 1293.8 L1461.8 1305.9 L1463.0 1301.7 L1464.2 1307.8 L1465.4 1300.4 L1466.6 1304.4 L1467.9 1307.3 L1469.1 1304.6 L1470.3 1300.9 L1471.5 1297.3 L1472.7 1302.1 L1474.0 1300.9 L1475.2 1304.9 L1476.4 1303.4 L1477.6 1304.6 L1478.8 1296.9 L1480.1 1295.5 L1481.3 1296.7 L1482.5 1298.8 L1483.7 1290.8 L1484.9 1292.4 L1486.2 1291.6 L1487.4 1293.7 L1488.6 1293.4 L1489.8 1301.5 L1491.0 1292.3 L1492.3 1300.8 L1493.5 1290.1 L1494.7 1282.7 L1495.9 1283.3 L1497.1 1263.2 L1498.4 1254.4 L1499.6 1247.4 L1500.8 1242.6 L1502.0 1245.7 L1503.2 1244.2 L1504.5 1244.8 L1505.7 1244.9 L1506.9 1255.3 L1508.1 1249.9 L1509.3 1254.4 L1510.5 1260.6 L1511.8 1266.1 L1513.0 1264.6 L1514.2 1265.8 L1515.4 1265.8 L1516.6 1267.3 L1517.9 1268.5 L1519.1 1260.9 L1520.3 1260.7 L1521.5 1268.4 L1522.7 1268.1 L1524.0 1268.9 L1525.2 1272.7 L1526.4 1265.8 L1527.6 1272.3 L1528.8 1268.7 L1530.1 1268.2 L1531.3 1265.4 L1532.5 1265.0 L1533.7 1267.6 L1534.9 1266.4 L1536.2 1269.7 L1537.4 1261.5 L1538.6 1266.2 L1539.8 1258.5 L1541.0 1265.1 L1542.3 1258.9 L1543.5 1266.7 L1544.7 1267.2 L1545.9 1257.8 L1547.1 1263.5 L1548.4 1255.5 L1549.6 1255.7 L1550.8 1252.6 L1552.0 1256.2 L1553.2 1252.0 L1554.5 1259.2 L1555.7 1257.8 L1556.9 1256.1 L1558.1 1259.7 L1559.3 1254.3 L1560.6 1255.7 L1561.8 1256.4 L1563.0 1252.4 L1564.2 1263.3 L1565.4 1254.1 L1566.7 1254.5 L1567.9 1263.1 L1569.1 1263.6 L1570.3 1259.3 L1571.5 1259.0 L1572.8 1255.7 L1574.0 1254.1 L1575.2 1260.5 L1576.4 1257.5 L1577.6 1256.8 L1578.8 1266.4 L1580.1 1256.2 L1581.3 1260.8 L1582.5 1265.8 L1583.7 1266.1 L1584.9 1258.5 L1586.2 1266.1 L1587.4 1262.6 L1588.6 1260.8 L1589.8 1261.1 L1591.0 1255.5 L1592.3 1249.5 L1593.5 1248.8 L1594.7 1243.9 L1595.9 1244.0 L1597.1 1243.7 L1598.4 1235.3 L1599.6 1225.8 L1600.8 1216.7 L1602.0 1224.5 L1603.2 1221.5 L1604.5 1228.7 L1605.7 1235.8 L1606.9 1249.1 L1608.1 1257.2 L1609.3 1270.5 L1610.6 1272.8 L1611.8 1273.7 L1613.0 1275.9 L1614.2 1270.7 L1615.4 1270.1 L1616.7 1270.8 L1617.9 1268.6 L1619.1 1267.4 L1620.3 1268.2 L1621.5 1263.9 L1622.8 1262.4 L1624.0 1254.7 L1625.2 1251.6 L1626.4 1250.8 L1627.6 1250.2 L1628.9 1255.8 L1630.1 1247.8 L1631.3 1255.1 L1632.5 1264.2 L1633.7 1265.2 L1635.0 1273.7 L1636.2 1268.0 L1637.4 1276.3 L1638.6 1273.4 L1639.8 1278.7 L1641.0 1277.2 L1642.3 1285.6 L1643.5 1292.8 L1644.7 1292.2 L1645.9 1290.5 L1647.1 1289.3 L1648.4 1285.5 L1649.6 1294.3 L1650.8 1292.3 L1652.0 1296.5 L1653.2 1296.0 L1654.5 1294.1 L1655.7 1300.2 L1656.9 1291.4 L1658.1 1300.6 L1659.3 1288.0 L1660.6 1295.4 L1661.8 1286.6 L1663.0 1280.3 L1664.2 1281.4 L1665.4 1271.8 L1666.7 1267.9 L1667.9 1259.8 L1669.1 1267.1 L1670.3 1265.0 L1671.5 1260.6 L1672.8 1259.8 L1674.0 1264.6 L1675.2 1272.1 L1676.4 1272.8 L1677.6 1269.3 L1678.9 1265.4 L1680.1 1276.0 L1681.3 1269.2 L1682.5 1275.8 L1683.7 1272.9 L1685.0 1277.8 L1686.2 1267.0 L1687.4 1273.5 L1688.6 1271.4 L1689.8 1261.9 L1691.1 1267.7 L1692.3 1264.1 L1693.5 1268.6 L1694.7 1270.8 L1695.9 1265.8 L1697.2 1261.9 L1698.4 1261.3 L1699.6 1255.4 L1700.8 1256.8 L1702.0 1252.2 L1703.2 1259.2 L1704.5 1250.4 L1705.7 1254.5 L1706.9 1248.4 L1708.1 1250.7 L1709.3 1242.1 L1710.6 1239.0 L1711.8 1243.6 L1713.0 1242.2 L1714.2 1242.1 L1715.4 1237.9 L1716.7 1240.5 L1717.9 1229.7 L1719.1 1234.9 L1720.3 1231.5 L1721.5 1220.2 L1722.8 1212.9 L1724.0 1207.8 L1725.2 1206.6 L1726.4 1208.1 L1727.6 1211.4 L1728.9 1220.1 L1730.1 1224.6 L1731.3 1236.6" fill="none" stroke="#e890e0" stroke-width="1.9" stroke-opacity="0.95" stroke-linejoin="round"/>
<path d="M1414.2 1253.5 L1415.4 1253.4 L1416.6 1254.1 L1417.9 1254.4 L1419.1 1255.0 L1420.3 1255.7 L1421.5 1256.5 L1422.7 1256.4 L1424.0 1256.7 L1425.2 1256.5 L1426.4 1256.6 L1427.6 1256.3 L1428.8 1255.6 L1430.1 1255.4 L1431.3 1254.8 L1432.5 1254.2 L1433.7 1253.8 L1434.9 1253.7 L1436.2 1253.7 L1437.4 1253.6 L1438.6 1253.4 L1439.8 1254.1 L1441.0 1254.3 L1442.3 1254.7 L1443.5 1255.0 L1444.7 1255.6 L1445.9 1256.2 L1447.1 1256.3 L1448.3 1256.4 L1449.6 1257.0 L1450.8 1257.2 L1452.0 1258.9 L1453.2 1262.4 L1454.4 1265.7 L1455.7 1269.6 L1456.9 1273.1 L1458.1 1275.4 L1459.3 1276.5 L1460.5 1277.4 L1461.8 1282.1 L1463.0 1288.4 L1464.2 1293.8 L1465.4 1297.2 L1466.6 1297.4 L1467.9 1297.5 L1469.1 1297.5 L1470.3 1297.0 L1471.5 1297.0 L1472.7 1296.5 L1474.0 1296.6 L1475.2 1296.3 L1476.4 1296.2 L1477.6 1296.1 L1478.8 1295.9 L1480.1 1296.0 L1481.3 1295.2 L1482.5 1294.9 L1483.7 1294.0 L1484.9 1293.7 L1486.2 1293.2 L1487.4 1292.6 L1488.6 1292.8 L1489.8 1291.7 L1491.0 1289.1 L1492.3 1285.3 L1493.5 1280.6 L1494.7 1274.9 L1495.9 1268.9 L1497.1 1263.6 L1498.4 1259.4 L1499.6 1255.7 L1500.8 1254.0 L1502.0 1253.5 L1503.2 1253.8 L1504.5 1255.1 L1505.7 1256.3 L1506.9 1258.0 L1508.1 1260.2 L1509.3 1262.1 L1510.5 1263.5 L1511.8 1265.4 L1513.0 1265.8 L1514.2 1266.3 L1515.4 1266.4 L1516.6 1266.7 L1517.9 1266.7 L1519.1 1266.7 L1520.3 1266.5 L1521.5 1266.8 L1522.7 1266.3 L1524.0 1266.8 L1525.2 1266.3 L1526.4 1266.3 L1527.6 1266.7 L1528.8 1266.6 L1530.1 1266.4 L1531.3 1265.9 L1532.5 1266.0 L1533.7 1265.4 L1534.9 1264.8 L1536.2 1264.2 L1537.4 1264.2 L1538.6 1263.1 L1539.8 1262.6 L1541.0 1262.1 L1542.3 1261.8 L1543.5 1261.2 L1544.7 1260.6 L1545.9 1260.0 L1547.1 1259.2 L1548.4 1259.3 L1549.6 1258.6 L1550.8 1258.9 L1552.0 1258.7 L1553.2 1258.1 L1554.5 1258.6 L1555.7 1258.4 L1556.9 1258.4 L1558.1 1259.1 L1559.3 1259.1 L1560.6 1259.3 L1561.8 1259.7 L1563.0 1259.7 L1564.2 1260.3 L1565.4 1260.7 L1566.7 1261.1 L1567.9 1260.9 L1569.1 1261.6 L1570.3 1261.3 L1571.5 1261.4 L1572.8 1261.5 L1574.0 1261.5 L1575.2 1261.5 L1576.4 1262.0 L1577.6 1262.1 L1578.8 1262.2 L1580.1 1262.6 L1581.3 1262.6 L1582.5 1263.2 L1583.7 1263.5 L1584.9 1263.2 L1586.2 1263.2 L1587.4 1262.3 L1588.6 1260.7 L1589.8 1258.3 L1591.0 1255.1 L1592.3 1251.6 L1593.5 1248.1 L1594.7 1244.1 L1595.9 1240.2 L1597.1 1236.9 L1598.4 1234.6 L1599.6 1232.2 L1600.8 1231.3 L1602.0 1230.8 L1603.2 1232.7 L1604.5 1237.1 L1605.7 1243.8 L1606.9 1251.3 L1608.1 1258.8 L1609.3 1265.1 L1610.6 1268.5 L1611.8 1269.6 L1613.0 1269.8 L1614.2 1269.2 L1615.4 1268.2 L1616.7 1267.1 L1617.9 1265.3 L1619.1 1264.1 L1620.3 1262.2 L1621.5 1261.2 L1622.8 1259.5 L1624.0 1258.4 L1625.2 1257.6 L1626.4 1256.8 L1627.6 1256.8 L1628.9 1257.3 L1630.1 1258.0 L1631.3 1259.7 L1632.5 1261.9 L1633.7 1264.4 L1635.0 1267.4 L1636.2 1270.8 L1637.4 1273.9 L1638.6 1276.4 L1639.8 1278.8 L1641.0 1280.7 L1642.3 1282.4 L1643.5 1282.6 L1644.7 1282.7 L1645.9 1282.9 L1647.1 1283.0 L1648.4 1283.5 L1649.6 1284.0 L1650.8 1284.7 L1652.0 1285.3 L1653.2 1285.3 L1654.5 1285.7 L1655.7 1286.1 L1656.9 1285.8 L1658.1 1285.4 L1659.3 1284.4 L1660.6 1282.4 L1661.8 1279.8 L1663.0 1277.1 L1664.2 1274.0 L1665.4 1271.4 L1666.7 1269.1 L1667.9 1267.4 L1669.1 1266.4 L1670.3 1266.7 L1671.5 1266.5 L1672.8 1267.1 L1674.0 1267.5 L1675.2 1268.2 L1676.4 1269.2 L1677.6 1270.0 L1678.9 1270.7 L1680.1 1270.8 L1681.3 1271.3 L1682.5 1271.4 L1683.7 1271.1 L1685.0 1271.0 L1686.2 1270.6 L1687.4 1269.8 L1688.6 1269.2 L1689.8 1268.0 L1691.1 1266.9 L1692.3 1266.1 L1693.5 1264.8 L1694.7 1263.6 L1695.9 1262.9 L1697.2 1261.8 L1698.4 1261.1 L1699.6 1260.5 L1700.8 1260.4 L1702.0 1260.2 L1703.2 1259.8 L1704.5 1259.0 L1705.7 1258.0 L1706.9 1256.4 L1708.1 1254.3 L1709.3 1252.2 L1710.6 1249.7 L1711.8 1247.4 L1713.0 1245.2 L1714.2 1243.3 L1715.4 1241.8 L1716.7 1241.3 L1717.9 1240.6 L1719.1 1239.8 L1720.3 1237.1 L1721.5 1232.8 L1722.8 1227.7 L1724.0 1222.7 L1725.2 1219.1 L1726.4 1217.6 L1727.6 1219.5 L1728.9 1224.4 L1730.1 1228.7 L1731.3 1230.8" fill="none" stroke="#f8f0f8" stroke-width="1.2" stroke-opacity="0.95" stroke-linejoin="round"/>
<path d="M1628 1346.5 Q1634 1343 1640 1346.5" fill="none" stroke="#e8e8d0" stroke-width="1.5"/>
<line x1="1700" y1="1345.6" x2="1733" y2="1345.6" stroke="#a8b8d8" stroke-width="0.9"/>
<line x1="1296.9" y1="1377.2" x2="1705.3" y2="1377.2" stroke="#78c0ea" stroke-width="1.6"/>
<rect x="1397.5" y="1375.7" width="3" height="3" fill="#111"/>
<rect x="1601.5" y="1375.7" width="3" height="3" fill="#111"/>
<rect x="1294.1000000000001" y="1374.4" width="5.6" height="5.6" fill="#dde8ff" stroke="#3060c0" stroke-width="1"/>
<rect x="1702.5" y="1374.4" width="5.6" height="5.6" fill="#dde8ff" stroke="#3060c0" stroke-width="1"/>
<rect x="1491.1" y="1379.2" width="20" height="2" fill="#222" fill-opacity="0.6"/>
</svg>
</body></html>
